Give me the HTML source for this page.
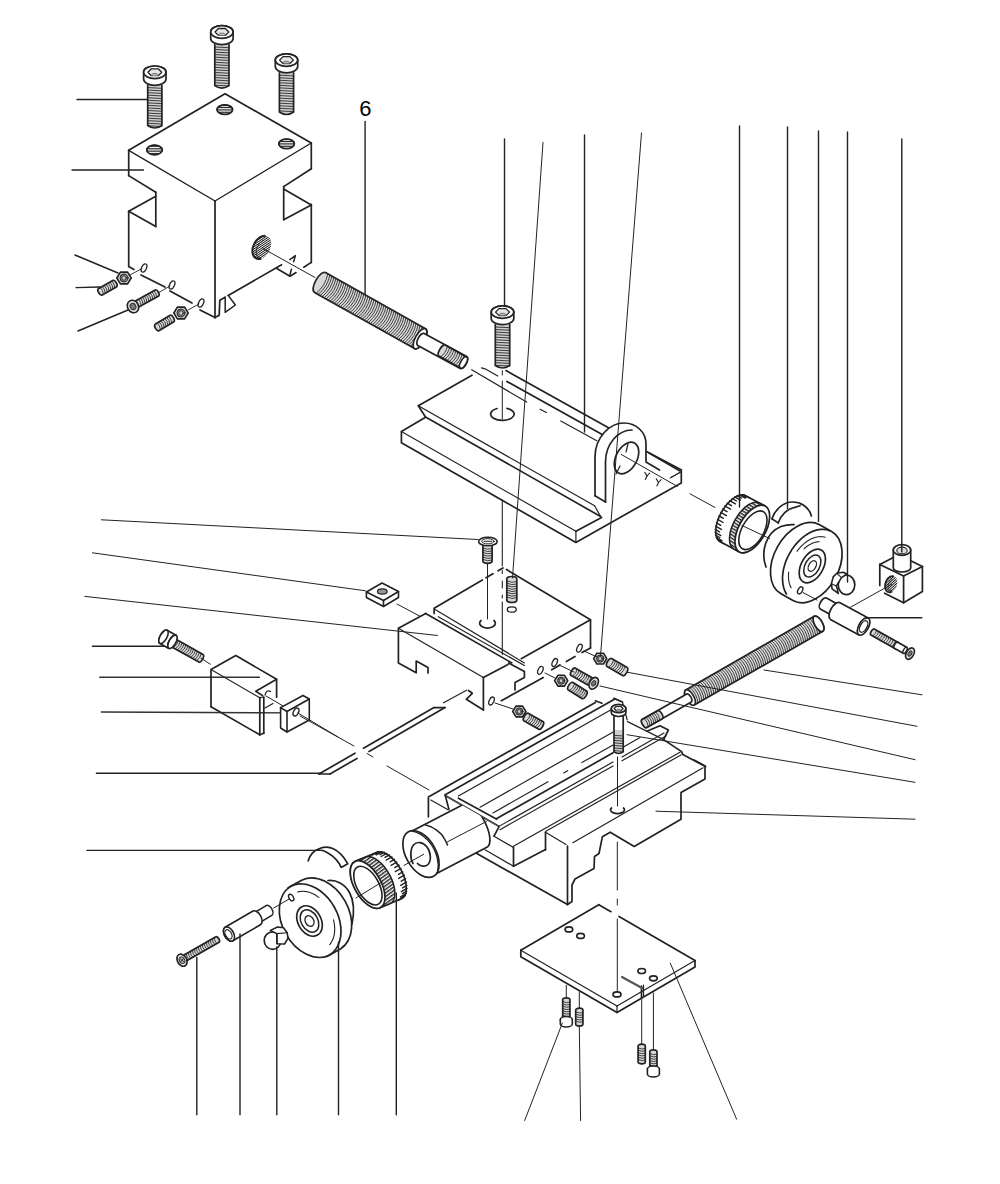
<!DOCTYPE html>
<html><head><meta charset="utf-8"><style>
html,body{margin:0;padding:0;background:#fff;}
svg{display:block;}
</style></head><body>
<svg width="1000" height="1184" viewBox="0 0 1000 1184" stroke-linecap="round">
<rect width="1000" height="1184" fill="#fff"/>
<defs><pattern id="hh" width="3" height="1.7" patternUnits="userSpaceOnUse" patternTransform="rotate(0)"><rect width="3" height="1.7" fill="#fff"/><path d="M0,0.5 H3" stroke="#222" stroke-width="0.9"/></pattern><pattern id="hd" width="3" height="1.8" patternUnits="userSpaceOnUse" patternTransform="rotate(-62)"><rect width="3" height="1.8" fill="#fff"/><path d="M0,0.5 H3" stroke="#111" stroke-width="1"/></pattern><pattern id="knA" width="4" height="2.9" patternUnits="userSpaceOnUse" patternTransform="rotate(33)"><rect width="4" height="2.9" fill="#fff"/><path d="M0,0.7 H4" stroke="#222" stroke-width="1.3"/></pattern><pattern id="knB" width="4" height="2.9" patternUnits="userSpaceOnUse" patternTransform="rotate(-36)"><rect width="4" height="2.9" fill="#fff"/><path d="M0,0.7 H4" stroke="#222" stroke-width="1.3"/></pattern><clipPath id="cpm"><polygon points="445.2,795.4 499.2,826.4 512,818 512,778 446,778 438,788"/></clipPath></defs>
<line x1="77" y1="99.5" x2="148" y2="99.5" stroke="#222" stroke-width="1.4" />
<line x1="72" y1="170" x2="143.5" y2="170" stroke="#222" stroke-width="1.4" />
<line x1="75" y1="255" x2="118" y2="273" stroke="#222" stroke-width="1.4" />
<line x1="76" y1="287.6" x2="100" y2="287" stroke="#222" stroke-width="1.4" />
<line x1="78" y1="331" x2="128" y2="310" stroke="#222" stroke-width="1.4" />
<polyline points="128.7,150.3 225,93.8 311.3,143" fill="none" stroke="#222" stroke-width="1.7" stroke-linejoin="round"/>
<line x1="128.7" y1="150.3" x2="215" y2="201" stroke="#222" stroke-width="1.4" />
<line x1="215" y1="201" x2="311.3" y2="143" stroke="#222" stroke-width="1.4" />
<line x1="128.7" y1="150.3" x2="128.7" y2="175.6" stroke="#222" stroke-width="1.7" />
<line x1="128.7" y1="175.6" x2="155.8" y2="192.2" stroke="#222" stroke-width="1.7" />
<line x1="155.8" y1="192.2" x2="155.8" y2="226.5" stroke="#222" stroke-width="1.7" />
<line x1="128.7" y1="211.3" x2="155.8" y2="196.2" stroke="#222" stroke-width="1.7" />
<line x1="128.7" y1="211.3" x2="155.8" y2="226.5" stroke="#222" stroke-width="1.7" />
<line x1="128.7" y1="211.3" x2="128.7" y2="266.5" stroke="#222" stroke-width="1.7" />
<line x1="128.7" y1="266.5" x2="134" y2="269.5" stroke="#222" stroke-width="1.7" />
<line x1="141" y1="275" x2="165" y2="287" stroke="#222" stroke-width="1.7" />
<line x1="170" y1="291" x2="192" y2="303" stroke="#222" stroke-width="1.7" />
<line x1="200" y1="310" x2="215" y2="317.6" stroke="#222" stroke-width="1.7" />
<line x1="215" y1="201" x2="215" y2="317.6" stroke="#222" stroke-width="1.7" />
<line x1="311.3" y1="143" x2="311.3" y2="168.7" stroke="#222" stroke-width="1.7" />
<line x1="311.3" y1="168.7" x2="283.7" y2="186.6" stroke="#222" stroke-width="1.7" />
<line x1="283.7" y1="186.6" x2="283.7" y2="219.7" stroke="#222" stroke-width="1.7" />
<line x1="283.7" y1="189" x2="311.3" y2="204.9" stroke="#222" stroke-width="1.7" />
<line x1="311.3" y1="204.9" x2="283.7" y2="219.7" stroke="#222" stroke-width="1.7" />
<line x1="311.3" y1="204.4" x2="311.3" y2="262.4" stroke="#222" stroke-width="1.7" />
<line x1="311.3" y1="262.4" x2="303.8" y2="267.2" stroke="#222" stroke-width="1.7" />
<polyline points="296,272.6 290,276.2 276.8,268.4" fill="none" stroke="#222" stroke-width="1.7" stroke-linejoin="round"/>
<line x1="281.6" y1="264.8" x2="228.2" y2="295.4" stroke="#222" stroke-width="1.7" />
<polyline points="225.2,297.2 219.8,300.2 219.2,315.2 215,317.6" fill="none" stroke="#222" stroke-width="1.7" stroke-linejoin="round"/>
<polyline points="228.2,295.4 235.4,305 225.2,312.3 225.2,297.2" fill="none" stroke="#222" stroke-width="1.5" stroke-linejoin="round"/>
<polyline points="289.8,259.6 295.4,255.6 293.6,261.7" fill="none" stroke="#222" stroke-width="1.5" stroke-linejoin="round"/>
<line x1="291.4" y1="269.3" x2="289.6" y2="276.3" stroke="#222" stroke-width="1.5" />
<ellipse cx="154.5" cy="150" rx="7.8" ry="4.8" transform="rotate(0 154.5 150)" fill="url(#hh)" stroke="#222" stroke-width="1.7"/>
<polyline points="146.8,150.8 146.7,150.1 146.8,149.4 147,148.8 147.3,148.1 147.9,147.5 148.5,146.9 149.3,146.4 150.2,146 151.2,145.6 152.3,145.4 153.4,145.3 154.5,145.2 155.6,145.3 156.7,145.4 157.8,145.6 158.8,146 159.7,146.4 160.5,146.9 161.1,147.5 161.7,148.1 162,148.8 162.2,149.4 162.3,150.1 162.2,150.8" fill="none" stroke="#222" stroke-width="1.2" stroke-linejoin="round"/>
<ellipse cx="224.8" cy="109.6" rx="7.8" ry="4.8" transform="rotate(0 224.8 109.6)" fill="url(#hh)" stroke="#222" stroke-width="1.7"/>
<polyline points="217.1,110.4 217,109.7 217.1,109 217.3,108.4 217.6,107.7 218.2,107.1 218.8,106.5 219.6,106 220.5,105.6 221.5,105.2 222.6,105 223.7,104.9 224.8,104.8 225.9,104.9 227,105 228.1,105.2 229.1,105.6 230,106 230.8,106.5 231.4,107.1 232,107.7 232.3,108.4 232.5,109 232.6,109.7 232.5,110.4" fill="none" stroke="#222" stroke-width="1.2" stroke-linejoin="round"/>
<ellipse cx="286.6" cy="143.8" rx="7.8" ry="4.8" transform="rotate(0 286.6 143.8)" fill="url(#hh)" stroke="#222" stroke-width="1.7"/>
<polyline points="278.9,144.6 278.8,143.9 278.9,143.2 279.1,142.6 279.4,141.9 280,141.3 280.6,140.7 281.4,140.2 282.3,139.8 283.3,139.4 284.4,139.2 285.5,139.1 286.6,139 287.7,139.1 288.8,139.2 289.9,139.4 290.9,139.8 291.8,140.2 292.6,140.7 293.2,141.3 293.8,141.9 294.1,142.6 294.3,143.2 294.4,143.9 294.3,144.6" fill="none" stroke="#222" stroke-width="1.2" stroke-linejoin="round"/>
<ellipse cx="261.8" cy="247.4" rx="8.4" ry="12.4" transform="rotate(28 261.8 247.4)" fill="url(#hd)" stroke="#222" stroke-width="0"/>
<polyline points="260.5,258.9 259.2,259 258,259 256.8,258.7 255.8,258.2 254.8,257.5 254,256.7 253.4,255.6 252.9,254.4 252.5,253 252.4,251.6 252.4,250 252.6,248.5 253,246.8 253.6,245.3 254.3,243.7 255.1,242.2 256.1,240.8 257.2,239.6 258.4,238.5 259.6,237.5 260.9,236.8 262.2,236.2 263.5,235.9 264.7,235.8" fill="none" stroke="#222" stroke-width="2.0" stroke-linejoin="round"/>
<polyline points="259.5,257.4 258.8,257.2 258.3,256.9 257.8,256.6 257.3,256.1 256.9,255.5 256.6,254.9 256.4,254.1 256.3,253.3 256.2,252.5 256.2,251.6 256.3,250.7 256.5,249.7 256.7,248.7 257,247.8 257.4,246.8 257.9,245.9 258.4,245 259,244.1 259.6,243.3 260.3,242.5 261,241.9 261.7,241.3 262.4,240.8 263.2,240.4" fill="none" stroke="#222" stroke-width="1.0" stroke-linejoin="round"/>
<path d="M147.7,82.3 L147.7,125.5 Q154.8,130.5 161.9,125.5 L161.9,82.3 Z" fill="#cfcfcf"/>
<path d="M148.2,87.6 L161.4,88.3 M148.2,90.1 L161.4,90.8 M148.2,92.7 L161.4,93.4 M148.2,95.2 L161.4,95.9 M148.2,97.8 L161.4,98.5 M148.2,100.3 L161.4,101 M148.2,102.9 L161.4,103.6 M148.2,105.4 L161.4,106.1 M148.2,108 L161.4,108.7 M148.2,110.5 L161.4,111.2 M148.2,113.1 L161.4,113.8 M148.2,115.6 L161.4,116.3 M148.2,118.2 L161.4,118.9 M148.2,120.7 L161.4,121.4 M148.2,123.3 L161.4,124 M148.2,125.8 L161.4,126.5" stroke="#333" stroke-width="0.95" fill="none"/>
<path d="M147.7,85.3 L147.7,125.5 Q154.8,130.5 161.9,125.5 L161.9,85.3" fill="none" stroke="#222" stroke-width="1.7"/>
<path d="M143.6,72.3 L143.6,79 A11.2,6.3 0 0 0 166,79 L166,72.3 A11.2,6.3 0 0 0 143.6,72.3 Z" fill="#fff" stroke="#222" stroke-width="1.7"/>
<ellipse cx="154.8" cy="72.3" rx="11.2" ry="6.3" transform="rotate(0 154.8 72.3)" fill="#fff" stroke="#222" stroke-width="1.7"/>
<polygon points="147.9,72.3 151.3,68.8 158.3,68.8 161.7,72.3 158.3,75.7 151.3,75.7" fill="#e6e6e6" stroke="#222" stroke-width="1.3" stroke-linejoin="round"/>
<path d="M151.3,75.7 L152.7,73.5 L156.9,73.5 L158.3,75.7" fill="#bbb" stroke="#555" stroke-width="0.7"/>
<path d="M214.8,41.7 L214.8,85.6 Q221.9,90.6 229,85.6 L229,41.7 Z" fill="#cfcfcf"/>
<path d="M215.3,47 L228.5,47.7 M215.3,49.5 L228.5,50.2 M215.3,52.1 L228.5,52.8 M215.3,54.6 L228.5,55.3 M215.3,57.2 L228.5,57.9 M215.3,59.7 L228.5,60.4 M215.3,62.3 L228.5,63 M215.3,64.8 L228.5,65.5 M215.3,67.4 L228.5,68.1 M215.3,69.9 L228.5,70.6 M215.3,72.5 L228.5,73.2 M215.3,75 L228.5,75.7 M215.3,77.6 L228.5,78.3 M215.3,80.1 L228.5,80.8 M215.3,82.7 L228.5,83.4 M215.3,85.2 L228.5,85.9" stroke="#333" stroke-width="0.95" fill="none"/>
<path d="M214.8,44.7 L214.8,85.6 Q221.9,90.6 229,85.6 L229,44.7" fill="none" stroke="#222" stroke-width="1.7"/>
<path d="M210.7,32 L210.7,38.4 A11.2,6.3 0 0 0 233.1,38.4 L233.1,32 A11.2,6.3 0 0 0 210.7,32 Z" fill="#fff" stroke="#222" stroke-width="1.7"/>
<ellipse cx="221.9" cy="32" rx="11.2" ry="6.3" transform="rotate(0 221.9 32)" fill="#fff" stroke="#222" stroke-width="1.7"/>
<polygon points="215,32 218.4,28.5 225.4,28.5 228.8,32 225.4,35.4 218.4,35.4" fill="#e6e6e6" stroke="#222" stroke-width="1.3" stroke-linejoin="round"/>
<path d="M218.4,35.4 L219.8,33.2 L224,33.2 L225.4,35.4" fill="#bbb" stroke="#555" stroke-width="0.7"/>
<path d="M279.4,69.9 L279.4,112 Q286.5,117 293.6,112 L293.6,69.9 Z" fill="#cfcfcf"/>
<path d="M279.9,75.2 L293.1,75.9 M279.9,77.8 L293.1,78.5 M279.9,80.3 L293.1,81 M279.9,82.8 L293.1,83.5 M279.9,85.4 L293.1,86.1 M279.9,87.9 L293.1,88.6 M279.9,90.5 L293.1,91.2 M279.9,93 L293.1,93.7 M279.9,95.6 L293.1,96.3 M279.9,98.1 L293.1,98.8 M279.9,100.7 L293.1,101.4 M279.9,103.2 L293.1,103.9 M279.9,105.8 L293.1,106.5 M279.9,108.3 L293.1,109 M279.9,110.9 L293.1,111.6" stroke="#333" stroke-width="0.95" fill="none"/>
<path d="M279.4,72.9 L279.4,112 Q286.5,117 293.6,112 L293.6,72.9" fill="none" stroke="#222" stroke-width="1.7"/>
<path d="M275.3,60.1 L275.3,66.6 A11.2,6.3 0 0 0 297.7,66.6 L297.7,60.1 A11.2,6.3 0 0 0 275.3,60.1 Z" fill="#fff" stroke="#222" stroke-width="1.7"/>
<ellipse cx="286.5" cy="60.1" rx="11.2" ry="6.3" transform="rotate(0 286.5 60.1)" fill="#fff" stroke="#222" stroke-width="1.7"/>
<polygon points="279.6,60.1 283,56.6 290,56.6 293.4,60.1 290,63.5 283,63.5" fill="#e6e6e6" stroke="#222" stroke-width="1.3" stroke-linejoin="round"/>
<path d="M283,63.5 L284.4,61.3 L288.6,61.3 L290,63.5" fill="#bbb" stroke="#555" stroke-width="0.7"/>
<ellipse cx="144" cy="268" rx="2.4" ry="4.4" transform="rotate(25 144 268)" fill="#fff" stroke="#222" stroke-width="1.3"/>
<ellipse cx="172" cy="285" rx="2.4" ry="4.4" transform="rotate(25 172 285)" fill="#fff" stroke="#222" stroke-width="1.3"/>
<ellipse cx="201" cy="303" rx="2.4" ry="4.4" transform="rotate(25 201 303)" fill="#fff" stroke="#222" stroke-width="1.3"/>
<line x1="130" y1="275" x2="142" y2="268.5" stroke="#222" stroke-width="0.9" />
<line x1="158" y1="293" x2="170" y2="286" stroke="#222" stroke-width="0.9" />
<line x1="188" y1="310" x2="199" y2="304" stroke="#222" stroke-width="0.9" />
<polygon points="131.2,278 127.6,283.9 120.4,283.9 116.8,278 120.4,272.1 127.6,272.1" fill="#d0d0d0" stroke="#222" stroke-width="1.6" stroke-linejoin="round"/>
<ellipse cx="124" cy="278" rx="4" ry="4" transform="rotate(0 124 278)" fill="#888" stroke="#222" stroke-width="1.0"/>
<ellipse cx="124" cy="278" rx="2.2" ry="2.2" transform="rotate(0 124 278)" fill="#ccc" stroke="#222" stroke-width="0.8"/>
<polygon points="188.2,313 184.6,318.9 177.4,318.9 173.8,313 177.4,307.1 184.6,307.1" fill="#d0d0d0" stroke="#222" stroke-width="1.6" stroke-linejoin="round"/>
<ellipse cx="181" cy="313" rx="4" ry="4" transform="rotate(0 181 313)" fill="#888" stroke="#222" stroke-width="1.0"/>
<ellipse cx="181" cy="313" rx="2.2" ry="2.2" transform="rotate(0 181 313)" fill="#ccc" stroke="#222" stroke-width="0.8"/>
<path d="M101.8,295.2 L116.8,286.7 A1.7,3.7 -29.5 0 0 113.2,280.3 L98.2,288.8 A1.7,3.7 -29.5 0 0 101.8,295.2 Z" fill="#d8d8d8" stroke="none"/>
<path d="M103.4,294.3 Q103.2,290.2 100.4,287.5 M105.3,293.2 Q105.1,289.1 102.3,286.4 M107.3,292.1 Q107,288 104.2,285.4 M109.2,291.1 Q109,286.9 106.1,284.3 M111.1,290 Q110.9,285.8 108.1,283.2 M113,288.9 Q112.8,284.8 110,282.1 M114.9,287.8 Q114.7,283.7 111.9,281" fill="none" stroke="#222" stroke-width="0.85"/>
<path d="M98.2,288.8 A1.7,3.7 -29.5 0 0 101.8,295.2 L116.8,286.7 A1.7,3.7 -29.5 0 0 113.2,280.3 Z" fill="none" stroke="#222" stroke-width="1.7" stroke-linejoin="round"/>
<path d="M158.9,330.7 L173.9,321.7 A1.7,3.7 -31 0 0 170.1,315.3 L155.1,324.3 A1.7,3.7 -31 0 0 158.9,330.7 Z" fill="#d8d8d8" stroke="none"/>
<path d="M160.5,329.7 Q160.2,325.6 157.3,323 M162.4,328.6 Q162.1,324.5 159.2,321.9 M164.3,327.5 Q163.9,323.3 161.1,320.8 M166.1,326.3 Q165.8,322.2 162.9,319.6 M168,325.2 Q167.7,321.1 164.8,318.5 M169.9,324.1 Q169.6,319.9 166.7,317.4 M171.8,322.9 Q171.5,318.8 168.6,316.2" fill="none" stroke="#222" stroke-width="0.85"/>
<path d="M155.1,324.3 A1.7,3.7 -31 0 0 158.9,330.7 L173.9,321.7 A1.7,3.7 -31 0 0 170.1,315.3 Z" fill="none" stroke="#222" stroke-width="1.7" stroke-linejoin="round"/>
<path d="M139.7,306.6 L158.7,296.1 A1.6,3.5 -28.9 0 0 155.3,289.9 L136.3,300.4 A1.6,3.5 -28.9 0 0 139.7,306.6 Z" fill="#d8d8d8" stroke="none"/>
<path d="M141.3,305.7 Q141.2,301.8 138.5,299.2 M143.2,304.6 Q143.1,300.7 140.5,298.1 M145.2,303.5 Q145,299.6 142.4,297.1 M147.1,302.5 Q146.9,298.6 144.3,296 M149,301.4 Q148.9,297.5 146.2,294.9 M150.9,300.3 Q150.8,296.4 148.2,293.9 M152.9,299.3 Q152.7,295.4 150.1,292.8 M154.8,298.2 Q154.6,294.3 152,291.8 M156.7,297.2 Q156.6,293.2 153.9,290.7" fill="none" stroke="#222" stroke-width="0.85"/>
<path d="M136.3,300.4 A1.6,3.5 -28.9 0 0 139.7,306.6 L158.7,296.1 A1.6,3.5 -28.9 0 0 155.3,289.9 Z" fill="none" stroke="#222" stroke-width="1.7" stroke-linejoin="round"/>
<ellipse cx="133" cy="306.5" rx="5.5" ry="6.5" transform="rotate(-30 133 306.5)" fill="#ddd" stroke="#222" stroke-width="1.6"/>
<ellipse cx="133" cy="306.5" rx="2.8" ry="3.3" transform="rotate(-30 133 306.5)" fill="#777" stroke="#222" stroke-width="0.9"/>
<text x="359.3" y="116.2" font-family="Liberation Sans, sans-serif" font-size="22" fill="#000">6</text>
<line x1="365.1" y1="121.4" x2="365.1" y2="299" stroke="#222" stroke-width="1.4" />
<line x1="263" y1="248.5" x2="315" y2="277.5" stroke="#222" stroke-width="1.0" />
<path d="M314.5,292.4 L414.5,348.6 A4.7,11.3 29.3 0 0 425.5,328.8 L325.5,272.6 A4.7,11.3 29.3 0 0 314.5,292.4 Z" fill="#d8d8d8" stroke="none"/>
<path d="M316.2,293.3 Q325.7,285.7 327.8,273.9 M318.2,294.4 Q327.7,286.8 329.9,275.1 M320.2,295.6 Q329.7,288 331.9,276.2 M322.2,296.7 Q331.7,289.1 333.9,277.3 M324.2,297.8 Q333.7,290.2 335.9,278.5 M326.2,298.9 Q335.8,291.4 337.9,279.6 M328.2,300.1 Q337.8,292.5 339.9,280.7 M330.2,301.2 Q339.8,293.6 341.9,281.8 M332.2,302.3 Q341.8,294.7 343.9,283 M334.2,303.4 Q343.8,295.9 345.9,284.1 M336.2,304.6 Q345.8,297 347.9,285.2 M338.2,305.7 Q347.8,298.1 349.9,286.3 M340.2,306.8 Q349.8,299.2 351.9,287.5 M342.2,308 Q351.8,300.4 353.9,288.6 M344.2,309.1 Q353.8,301.5 355.9,289.7 M346.2,310.2 Q355.8,302.6 357.9,290.8 M348.2,311.3 Q357.8,303.7 359.9,292 M350.2,312.5 Q359.8,304.9 361.9,293.1 M352.3,313.6 Q361.8,306 363.9,294.2 M354.3,314.7 Q363.8,307.1 365.9,295.4 M356.3,315.8 Q365.8,308.3 367.9,296.5 M358.3,317 Q367.8,309.4 370,297.6 M360.3,318.1 Q369.8,310.5 372,298.7 M362.3,319.2 Q371.8,311.6 374,299.9 M364.3,320.4 Q373.8,312.8 376,301 M366.3,321.5 Q375.9,313.9 378,302.1 M368.3,322.6 Q377.9,315 380,303.2 M370.3,323.7 Q379.9,316.1 382,304.4 M372.3,324.9 Q381.9,317.3 384,305.5 M374.3,326 Q383.9,318.4 386,306.6 M376.3,327.1 Q385.9,319.5 388,307.8 M378.3,328.2 Q387.9,320.7 390,308.9 M380.3,329.4 Q389.9,321.8 392,310 M382.3,330.5 Q391.9,322.9 394,311.1 M384.3,331.6 Q393.9,324 396,312.3 M386.3,332.7 Q395.9,325.2 398,313.4 M388.3,333.9 Q397.9,326.3 400,314.5 M390.4,335 Q399.9,327.4 402,315.6 M392.4,336.1 Q401.9,328.5 404,316.8 M394.4,337.3 Q403.9,329.7 406,317.9 M396.4,338.4 Q405.9,330.8 408,319 M398.4,339.5 Q407.9,331.9 410.1,320.1 M400.4,340.6 Q409.9,333 412.1,321.3 M402.4,341.8 Q411.9,334.2 414.1,322.4 M404.4,342.9 Q414,335.3 416.1,323.5 M406.4,344 Q416,336.4 418.1,324.7 M408.4,345.1 Q418,337.6 420.1,325.8 M410.4,346.3 Q420,338.7 422.1,326.9 M412.4,347.4 Q422,339.8 424.1,328" fill="none" stroke="#222" stroke-width="0.85"/>
<path d="M325.5,272.6 A4.7,11.3 29.3 0 0 314.5,292.4 L414.5,348.6 A4.7,11.3 29.3 0 0 425.5,328.8 Z" fill="none" stroke="#222" stroke-width="1.7" stroke-linejoin="round"/>
<ellipse cx="420" cy="338.7" rx="4.7" ry="11.3" transform="rotate(29.3 420 338.7)" fill="#fff" stroke="#222" stroke-width="1.7"/>
<path d="M424.2,333.5 A3.1,6.8 28.4 0 0 417.8,345.5 L460.3,368.5 A3.1,6.8 28.4 0 0 466.7,356.5 Z" fill="#fff" stroke="#222" stroke-width="1.7" stroke-linejoin="round"/>
<path d="M438.9,356 L460.4,368 A2.5,6.3 29.2 0 0 466.6,357 L445.1,345 A2.5,6.3 29.2 0 0 438.9,356 Z" fill="#d8d8d8" stroke="none"/>
<path d="M440.7,357 Q446.1,352.8 447.5,346.3 M442.8,358.2 Q448.2,353.9 449.6,347.5 M444.9,359.3 Q450.3,355.1 451.7,348.7 M447,360.5 Q452.4,356.3 453.8,349.8 M449.1,361.7 Q454.5,357.5 455.9,351 M451.2,362.8 Q456.6,358.6 458,352.2 M453.3,364 Q458.7,359.8 460,353.4 M455.4,365.2 Q460.7,361 462.1,354.5 M457.5,366.4 Q462.8,362.1 464.2,355.7 M459.6,367.5 Q464.9,363.3 466.3,356.9" fill="none" stroke="#222" stroke-width="0.85"/>
<path d="M445.1,345 A2.5,6.3 29.2 0 0 438.9,356 L460.4,368 A2.5,6.3 29.2 0 0 466.6,357 Z" fill="none" stroke="#222" stroke-width="1.7" stroke-linejoin="round"/>
<ellipse cx="463.5" cy="362.5" rx="2.7" ry="6.3" transform="rotate(29.3 463.5 362.5)" fill="#fff" stroke="#222" stroke-width="1.5"/>
<polyline points="424.7,417.8 401.4,431.4 401.4,442.7 575.9,542.4 681.3,482.9 681.3,471.8 649,453.1" fill="none" stroke="#222" stroke-width="1.7" stroke-linejoin="round"/>
<line x1="401.4" y1="431.4" x2="575.9" y2="531.3" stroke="#222" stroke-width="1.2" />
<line x1="575.9" y1="531.3" x2="575.9" y2="542.4" stroke="#222" stroke-width="1.2" />
<line x1="575.9" y1="531.3" x2="601.6" y2="517.6" stroke="#222" stroke-width="1.7" />
<line x1="671" y1="477.5" x2="681.3" y2="471.8" stroke="#222" stroke-width="1.2" />
<line x1="418.3" y1="405.7" x2="472" y2="375.2" stroke="#222" stroke-width="1.7" />
<line x1="418.3" y1="405.7" x2="425.5" y2="417" stroke="#222" stroke-width="1.7" />
<line x1="418.3" y1="405.7" x2="594.6" y2="505.8" stroke="#222" stroke-width="1.2" />
<line x1="425.5" y1="417" x2="600.6" y2="516.5" stroke="#222" stroke-width="1.7" />
<line x1="594.6" y1="505.8" x2="600.6" y2="516.5" stroke="#222" stroke-width="1.2" />
<line x1="506" y1="370.6" x2="609.4" y2="428.2" stroke="#222" stroke-width="1.7" />
<line x1="506.8" y1="381.4" x2="604" y2="435.4" stroke="#222" stroke-width="1.7" />
<polyline points="481.5,367.8 485,368.8 497.8,376" fill="none" stroke="#222" stroke-width="1.2" stroke-linejoin="round"/>
<path d="M497,408.5 A11.7,6.3 0 1 0 507,408.3" fill="none" stroke="#222" stroke-width="1.7" stroke-linejoin="round" />
<line x1="471.7" y1="369.7" x2="526.6" y2="402.1" stroke="#222" stroke-width="1.2" />
<line x1="540.1" y1="409.3" x2="546.4" y2="412.5" stroke="#222" stroke-width="1.2" />
<line x1="560.8" y1="421" x2="596.8" y2="440.8" stroke="#222" stroke-width="1.2" />
<line x1="690" y1="493.8" x2="715" y2="507.5" stroke="#222" stroke-width="1.0" />
<line x1="502.3" y1="370.6" x2="502.3" y2="375" stroke="#222" stroke-width="1.0" />
<line x1="502.3" y1="381" x2="502.3" y2="419" stroke="#222" stroke-width="1.0" />
<path d="M495.3,321.7 L495.3,365.5 Q502.5,370.5 509.7,365.5 L509.7,321.7 Z" fill="#cfcfcf"/>
<path d="M495.8,327 L509.2,327.7 M495.8,329.6 L509.2,330.2 M495.8,332.1 L509.2,332.8 M495.8,334.7 L509.2,335.4 M495.8,337.2 L509.2,337.9 M495.8,339.8 L509.2,340.5 M495.8,342.3 L509.2,343 M495.8,344.9 L509.2,345.6 M495.8,347.4 L509.2,348.1 M495.8,350 L509.2,350.7 M495.8,352.5 L509.2,353.2 M495.8,355.1 L509.2,355.8 M495.8,357.6 L509.2,358.3 M495.8,360.2 L509.2,360.9 M495.8,362.7 L509.2,363.4 M495.8,365.3 L509.2,366" stroke="#333" stroke-width="0.95" fill="none"/>
<path d="M495.3,324.7 L495.3,365.5 Q502.5,370.5 509.7,365.5 L509.7,324.7" fill="none" stroke="#222" stroke-width="1.7"/>
<path d="M491.2,312.1 L491.2,318.4 A11.3,6.3 0 0 0 513.8,318.4 L513.8,312.1 A11.3,6.3 0 0 0 491.2,312.1 Z" fill="#fff" stroke="#222" stroke-width="1.7"/>
<ellipse cx="502.5" cy="312.1" rx="11.3" ry="6.3" transform="rotate(0 502.5 312.1)" fill="#fff" stroke="#222" stroke-width="1.7"/>
<polygon points="495.5,312.1 499,308.6 506,308.6 509.5,312.1 506,315.6 499,315.6" fill="#e6e6e6" stroke="#222" stroke-width="1.3" stroke-linejoin="round"/>
<path d="M499,315.6 L500.4,313.3 L504.6,313.3 L506,315.6" fill="#bbb" stroke="#555" stroke-width="0.7"/>
<path d="M595,495.8 L595,457 C595,437 610,423 624,423 C636,423 646,432 646,444 L646,461" fill="#fff" stroke="#222" stroke-width="1.7" stroke-linejoin="round" />
<path d="M605.5,502.1 L605.5,462 C605.5,444 618,430 632,430" fill="none" stroke="#222" stroke-width="1.7" stroke-linejoin="round" />
<line x1="595" y1="495.8" x2="605.5" y2="502.1" stroke="#222" stroke-width="1.7" />
<ellipse cx="626.5" cy="458" rx="10.5" ry="17" transform="rotate(28 626.5 458)" fill="#fff" stroke="#222" stroke-width="1.7"/>
<path d="M628,444 L626,452 M620,466 L616,474" fill="none" stroke="#222" stroke-width="1.2" stroke-linejoin="round" />
<line x1="646" y1="451.2" x2="681.6" y2="470.1" stroke="#222" stroke-width="1.7" />
<line x1="646" y1="462" x2="659.5" y2="470.1" stroke="#222" stroke-width="1.7" />
<line x1="621.2" y1="454.4" x2="677.4" y2="486.4" stroke="#222" stroke-width="1.0" />
<line x1="644.8" y1="472.4" x2="647" y2="476" stroke="#222" stroke-width="1.1" />
<line x1="649.6" y1="473.2" x2="647" y2="476" stroke="#222" stroke-width="1.1" />
<line x1="647" y1="476" x2="645.4" y2="479.4" stroke="#222" stroke-width="1.1" />
<line x1="656.3" y1="478.9" x2="658.5" y2="482.5" stroke="#222" stroke-width="1.1" />
<line x1="661.1" y1="479.7" x2="658.5" y2="482.5" stroke="#222" stroke-width="1.1" />
<line x1="658.5" y1="482.5" x2="656.9" y2="485.9" stroke="#222" stroke-width="1.1" />
<line x1="670" y1="478" x2="679.5" y2="472.7" stroke="#222" stroke-width="1.0" />
<path d="M745.2,495.5 L765,506 A13.3,26.3 29.3 0 1 739.6,552 L719.8,541.5 A13.3,26.3 29.3 0 1 745.2,495.5 Z" fill="#fff" stroke="#222" stroke-width="1.7" stroke-linejoin="round" />
<path d="M718.7,540.8 l5.7,3.2 M717.3,539.3 l4.3,2.5 M716.2,537.4 l5.7,3.2 M715.5,535 l4.3,2.5 M715.2,532.4 l5.7,3.2 M715.2,529.4 l4.3,2.5 M715.6,526.2 l5.7,3.2 M716.4,522.8 l4.3,2.5 M717.5,519.3 l5.7,3.2 M719,515.8 l4.3,2.5 M720.7,512.4 l5.7,3.2 M722.7,509.1 l4.3,2.5 M724.8,506 l5.7,3.2 M727.2,503.2 l4.3,2.5 M729.7,500.7 l5.7,3.2 M732.2,498.5 l4.3,2.5 M734.7,496.9 l5.7,3.2 M737.2,495.6 l4.3,2.5 M739.6,494.9 l5.7,3.2 M741.8,494.7 l4.3,2.5 M743.9,494.9 l5.7,3.2" fill="none" stroke="#222" stroke-width="1.4" stroke-linejoin="round" />
<path d="M759,502.8 L765,506 A13.3,26.3 29.3 0 1 739.6,552 L733.6,548.8 A13.3,26.3 29.3 0 1 759,502.8 Z" fill="url(#knA)" stroke="#222" stroke-width="1.5" stroke-linejoin="round" />
<ellipse cx="752.3" cy="529" rx="13.3" ry="26.3" transform="rotate(29.3 752.3 529)" fill="#fff" stroke="#222" stroke-width="1.7"/>
<ellipse cx="752.9" cy="530.2" rx="10.9" ry="21.3" transform="rotate(29.3 752.9 530.2)" fill="#fff" stroke="#222" stroke-width="1.6"/>
<line x1="742" y1="525.5" x2="769.5" y2="538.5" stroke="#222" stroke-width="1.0" />
<path d="M771.9,518.7 C775.5,508.5 784,502.2 792,502 C800,501.8 808.5,506 811.4,515.9" fill="none" stroke="#222" stroke-width="1.7" stroke-linejoin="round" />
<path d="M778.2,522.9 C781,514.5 787.5,508.8 794,507.6 L800,505.7" fill="none" stroke="#222" stroke-width="1.7" stroke-linejoin="round" />
<line x1="771.9" y1="518.7" x2="778.2" y2="522.9" stroke="#222" stroke-width="1.7" />
<path d="M766,567 C760.5,552 765.5,533 781,526.5 C786,524.8 790,524.3 794,524.6" fill="none" stroke="#222" stroke-width="1.7" stroke-linejoin="round" />
<path d="M819.6,524.8 L831.6,531.5 A26,39.5 29.3 0 1 793,600.5 L781,593.8 A26,39.5 29.3 0 1 819.6,524.8 Z" fill="#fff" stroke="#222" stroke-width="1.7" stroke-linejoin="round" />
<polyline points="786.4,594 784.9,591.2 783.8,588 783,584.6 782.6,580.9 782.5,577 782.9,573 783.6,568.9 784.7,564.8 786.1,560.6 787.9,556.6 790,552.7 792.3,548.9 795,545.3 797.8,542.1 800.8,539.1 804,536.4 807.2,534.2 810.6,532.3 813.9,530.9 817.3,529.9 820.5,529.4 823.7,529.3 826.7,529.7 829.6,530.6" fill="none" stroke="#222" stroke-width="1.7" stroke-linejoin="round"/>
<polyline points="797.1,551.2 798.1,549.9 799.1,548.6 800.2,547.4 801.3,546.2 802.4,545.1 803.5,544.1 804.7,543.1 805.9,542.2 807.1,541.3 808.3,540.5 809.6,539.8 810.8,539.1 812.1,538.5 813.3,538 814.6,537.6 815.8,537.2 817,537 818.2,536.8 819.4,536.7 820.6,536.6 821.8,536.7 822.9,536.8 824,537 825.1,537.3" fill="none" stroke="#222" stroke-width="1.1" stroke-linejoin="round"/>
<polyline points="791.2,587.7 790.9,587.2 790.6,586.7 790.4,586.1 790.1,585.6 789.9,585 789.7,584.4 789.5,583.8 789.3,583.2 789.2,582.5 789,581.9 788.9,581.2 788.8,580.6 788.7,579.9 788.6,579.2 788.6,578.5 788.5,577.8 788.5,577.1 788.5,576.4 788.5,575.7 788.5,574.9 788.5,574.2 788.6,573.5 788.6,572.7 788.7,572" fill="none" stroke="#222" stroke-width="1.1" stroke-linejoin="round"/>
<polyline points="804.1,548.8 804.7,548.2 805.3,547.7 805.9,547.2 806.5,546.7 807.2,546.2 807.8,545.8 808.4,545.4 809,545 809.7,544.6 810.3,544.2 811,543.9 811.6,543.6 812.2,543.3 812.9,543 813.5,542.8 814.2,542.6 814.8,542.4 815.4,542.2 816.1,542.1 816.7,542 817.3,541.9 818,541.8 818.6,541.8 819.2,541.8" fill="none" stroke="#222" stroke-width="1.1" stroke-linejoin="round"/>
<ellipse cx="812.3" cy="566" rx="11" ry="18.3" transform="rotate(29.3 812.3 566)" fill="#fff" stroke="#222" stroke-width="1.7"/>
<ellipse cx="812.3" cy="566" rx="7.2" ry="12" transform="rotate(29.3 812.3 566)" fill="#fff" stroke="#222" stroke-width="1.5"/>
<ellipse cx="812.3" cy="566" rx="3.5" ry="5.8" transform="rotate(29.3 812.3 566)" fill="#fff" stroke="#222" stroke-width="1.3"/>
<ellipse cx="800.2" cy="590.4" rx="2.2" ry="3.8" transform="rotate(29.3 800.2 590.4)" fill="#fff" stroke="#222" stroke-width="1.4"/>
<line x1="803" y1="592.5" x2="817" y2="600" stroke="#222" stroke-width="1.0" />
<ellipse cx="846.5" cy="584.8" rx="8.3" ry="9.8" transform="rotate(0 846.5 584.8)" fill="#fff" stroke="#222" stroke-width="1.7"/>
<polygon points="831.4,583.7 833.2,576.9 836.8,573.3 843.3,572.2 846.9,574 841.5,577.6 836.4,585.9 838.3,593.4 832.1,588.8" fill="#fff" stroke="#222" stroke-width="1.6" stroke-linejoin="round"/>
<line x1="836.8" y1="573.3" x2="841.5" y2="577.6" stroke="#222" stroke-width="1.1" />
<line x1="831.4" y1="583.7" x2="836.4" y2="585.9" stroke="#222" stroke-width="1.1" />
<polyline points="879.8,564.4 903.6,576 922.4,566.4 922.4,591.4 903.6,602.8 884.6,593.2" fill="none" stroke="#222" stroke-width="1.7" stroke-linejoin="round"/>
<line x1="903.6" y1="576" x2="903.6" y2="602.8" stroke="#222" stroke-width="1.7" />
<line x1="879.8" y1="564.4" x2="879.8" y2="585.4" stroke="#222" stroke-width="1.7" />
<line x1="879.8" y1="564.4" x2="893.3" y2="557.5" stroke="#222" stroke-width="1.7" />
<line x1="910.7" y1="560.7" x2="922.4" y2="566.4" stroke="#222" stroke-width="1.7" />
<ellipse cx="891.2" cy="584.2" rx="5.8" ry="8.4" transform="rotate(20 891.2 584.2)" fill="url(#hd)" stroke="#222" stroke-width="0"/>
<polyline points="891.4,592 890.5,592.3 889.7,592.3 888.8,592.2 888,592 887.3,591.5 886.6,590.9 886.1,590.2 885.6,589.3 885.3,588.4 885.1,587.3 885,586.2 885.1,585 885.3,583.9 885.6,582.7 886,581.5 886.6,580.4 887.2,579.4 887.9,578.5 888.7,577.7 889.5,577.1 890.4,576.6 891.3,576.3 892.2,576.1 893.1,576.1" fill="none" stroke="#222" stroke-width="1.8" stroke-linejoin="round"/>
<polyline points="890.6,590.6 890.2,590.5 889.8,590.4 889.5,590.2 889.1,589.9 888.8,589.5 888.6,589.1 888.4,588.6 888.2,588.1 888.1,587.6 888.1,587 888.1,586.3 888.1,585.7 888.3,585.1 888.4,584.4 888.6,583.8 888.9,583.1 889.2,582.5 889.5,582 889.9,581.5 890.3,581 890.7,580.6 891.1,580.2 891.6,579.9 892,579.7" fill="none" stroke="#222" stroke-width="0.9" stroke-linejoin="round"/>
<path d="M893.3,550 L893.3,568 A8.7,4 0 0 0 910.7,568 L910.7,550" fill="#fff" stroke="#222" stroke-width="1.7" stroke-linejoin="round" />
<ellipse cx="902" cy="550" rx="8.7" ry="5.4" transform="rotate(0 902 550)" fill="#fff" stroke="#222" stroke-width="1.7"/>
<ellipse cx="902" cy="550.5" rx="5.2" ry="3.4" transform="rotate(0 902 550.5)" fill="#ddd" stroke="#222" stroke-width="1.1"/>
<line x1="849.8" y1="607.6" x2="891.8" y2="584.2" stroke="#222" stroke-width="1.0" />
<path d="M820.3,609 L832.9,616 A3.1,6.3 29.3 0 1 839.1,605 L826.5,598 A3.1,6.3 29.3 0 0 820.3,609 Z" fill="#fff" stroke="#222" stroke-width="1.7" stroke-linejoin="round" />
<ellipse cx="836" cy="610.5" rx="3.1" ry="6.3" transform="rotate(29.3 836 610.5)" fill="#fff" stroke="#222" stroke-width="1.7"/>
<path d="M830.4,619.4 L859,634.9 A4.8,9.6 29.3 0 1 868.2,618.1 L839.6,602.6 A4.8,9.6 29.3 0 0 830.4,619.4 Z" fill="#fff" stroke="#222" stroke-width="1.7" stroke-linejoin="round" />
<ellipse cx="863.6" cy="626.5" rx="4.8" ry="9.6" transform="rotate(29.3 863.6 626.5)" fill="#fff" stroke="#222" stroke-width="1.7"/>
<ellipse cx="863.6" cy="626.5" rx="3.3" ry="6.3" transform="rotate(29.3 863.6 626.5)" fill="#fff" stroke="#222" stroke-width="1.3"/>
<line x1="865.4" y1="617.8" x2="921.8" y2="617.8" stroke="#222" stroke-width="1.4" />
<path d="M870.9,635 L895.3,648.8 A1.5,3.4 29.5 0 0 898.7,642.8 L874.3,629 A1.5,3.4 29.5 0 0 870.9,635 Z" fill="#d8d8d8" stroke="none"/>
<path d="M872.7,636 Q875.9,633.9 876.7,630.4 M874.8,637.2 Q878,635 878.8,631.6 M876.9,638.3 Q880.1,636.2 880.8,632.8 M879,639.5 Q882.2,637.4 882.9,633.9 M881.1,640.7 Q884.2,638.6 885,635.1 M883.2,641.9 Q886.3,639.8 887.1,636.3 M885.2,643.1 Q888.4,640.9 889.2,637.5 M887.3,644.2 Q890.5,642.1 891.3,638.7 M889.4,645.4 Q892.6,643.3 893.4,639.8 M891.5,646.6 Q894.7,644.5 895.5,641 M893.6,647.8 Q896.8,645.7 897.6,642.2" fill="none" stroke="#222" stroke-width="0.85"/>
<path d="M874.3,629 A1.5,3.4 29.5 0 0 870.9,635 L895.3,648.8 A1.5,3.4 29.5 0 0 898.7,642.8 Z" fill="none" stroke="#222" stroke-width="1.7" stroke-linejoin="round"/>
<path d="M897.7,642.2 A1.5,3.4 29.5 0 0 894.3,648.2 L903.3,653.3 A1.5,3.4 29.5 0 0 906.7,647.3 Z" fill="#fff" stroke="#222" stroke-width="1.7" stroke-linejoin="round"/>
<ellipse cx="905" cy="650.3" rx="1.5" ry="3.4" transform="rotate(29.5 905 650.3)" fill="#fff" stroke="#222" stroke-width="1.36"/>
<ellipse cx="910" cy="653.6" rx="3.8" ry="6.2" transform="rotate(29.3 910 653.6)" fill="#ddd" stroke="#222" stroke-width="1.6"/>
<ellipse cx="910" cy="653.6" rx="1.8" ry="3" transform="rotate(29.3 910 653.6)" fill="#777" stroke="#222" stroke-width="0.8"/>
<path d="M694.3,705 L822.8,631.3 A3.9,8.6 -29.8 0 0 814.2,616.3 L685.7,690 A3.9,8.6 -29.8 0 0 694.3,705 Z" fill="#d8d8d8" stroke="none"/>
<path d="M696,704 Q695,694.6 688,688.7 M698,702.8 Q697,693.5 690,687.6 M700,701.7 Q699,692.3 692,686.4 M702,700.6 Q701,691.2 694,685.3 M704,699.4 Q703,690 696,684.1 M705.9,698.3 Q705,688.9 698,683 M707.9,697.1 Q707,687.8 700,681.9 M709.9,696 Q709,686.6 702,680.7 M711.9,694.8 Q711,685.5 704,679.6 M713.9,693.7 Q713,684.3 706,678.4 M715.9,692.5 Q715,683.2 708,677.3 M717.9,691.4 Q717,682 710,676.1 M719.9,690.3 Q719,680.9 712,675 M721.9,689.1 Q721,679.7 714,673.8 M723.9,688 Q722.9,678.6 716,672.7 M725.9,686.8 Q724.9,677.5 717.9,671.6 M727.9,685.7 Q726.9,676.3 719.9,670.4 M729.9,684.5 Q728.9,675.2 721.9,669.3 M731.9,683.4 Q730.9,674 723.9,668.1 M733.9,682.2 Q732.9,672.9 725.9,667 M735.9,681.1 Q734.9,671.7 727.9,665.8 M737.9,680 Q736.9,670.6 729.9,664.7 M739.9,678.8 Q738.9,669.4 731.9,663.5 M741.9,677.7 Q740.9,668.3 733.9,662.4 M743.9,676.5 Q742.9,667.2 735.9,661.3 M745.8,675.4 Q744.9,666 737.9,660.1 M747.8,674.2 Q746.9,664.9 739.9,659 M749.8,673.1 Q748.9,663.7 741.9,657.8 M751.8,671.9 Q750.9,662.6 743.9,656.7 M753.8,670.8 Q752.9,661.4 745.9,655.5 M755.8,669.7 Q754.9,660.3 747.9,654.4 M757.8,668.5 Q756.9,659.1 749.9,653.2 M759.8,667.4 Q758.9,658 751.9,652.1 M761.8,666.2 Q760.9,656.9 753.9,651 M763.8,665.1 Q762.9,655.7 755.9,649.8 M765.8,663.9 Q764.8,654.6 757.9,648.7 M767.8,662.8 Q766.8,653.4 759.8,647.5 M769.8,661.7 Q768.8,652.3 761.8,646.4 M771.8,660.5 Q770.8,651.1 763.8,645.2 M773.8,659.4 Q772.8,650 765.8,644.1 M775.8,658.2 Q774.8,648.9 767.8,642.9 M777.8,657.1 Q776.8,647.7 769.8,641.8 M779.8,655.9 Q778.8,646.6 771.8,640.7 M781.8,654.8 Q780.8,645.4 773.8,639.5 M783.8,653.6 Q782.8,644.3 775.8,638.4 M785.8,652.5 Q784.8,643.1 777.8,637.2 M787.7,651.4 Q786.8,642 779.8,636.1 M789.7,650.2 Q788.8,640.8 781.8,634.9 M791.7,649.1 Q790.8,639.7 783.8,633.8 M793.7,647.9 Q792.8,638.6 785.8,632.7 M795.7,646.8 Q794.8,637.4 787.8,631.5 M797.7,645.6 Q796.8,636.3 789.8,630.4 M799.7,644.5 Q798.8,635.1 791.8,629.2 M801.7,643.3 Q800.8,634 793.8,628.1 M803.7,642.2 Q802.8,632.8 795.8,626.9 M805.7,641.1 Q804.7,631.7 797.8,625.8 M807.7,639.9 Q806.7,630.5 799.7,624.6 M809.7,638.8 Q808.7,629.4 801.7,623.5 M811.7,637.6 Q810.7,628.3 803.7,622.4 M813.7,636.5 Q812.7,627.1 805.7,621.2 M815.7,635.3 Q814.7,626 807.7,620.1 M817.7,634.2 Q816.7,624.8 809.7,618.9 M819.7,633 Q818.7,623.7 811.7,617.8 M821.7,631.9 Q820.7,622.5 813.7,616.6" fill="none" stroke="#222" stroke-width="0.85"/>
<path d="M685.7,690 A3.9,8.6 -29.8 0 0 694.3,705 L822.8,631.3 A3.9,8.6 -29.8 0 0 814.2,616.3 Z" fill="none" stroke="#222" stroke-width="1.7" stroke-linejoin="round"/>
<ellipse cx="818.5" cy="623.8" rx="3.9" ry="8.6" transform="rotate(-29.8 818.5 623.8)" fill="#fff" stroke="#222" stroke-width="1.7"/>
<ellipse cx="690" cy="697.5" rx="3.9" ry="8.6" transform="rotate(-29.8 690 697.5)" fill="#fff" stroke="#222" stroke-width="1.7"/>
<path d="M642.1,719.6 A2.1,4.6 -29.9 0 0 646.7,727.6 L691.3,702 A2.1,4.6 -29.9 0 0 686.7,694 Z" fill="#fff" stroke="#222" stroke-width="1.7" stroke-linejoin="round"/>
<path d="M646.7,727.6 L662.3,718.7 A2.1,4.6 -29.7 0 0 657.7,710.7 L642.1,719.6 A2.1,4.6 -29.7 0 0 646.7,727.6 Z" fill="#d8d8d8" stroke="none"/>
<path d="M648.3,726.7 Q647.9,721.6 644.3,718.3 M650.2,725.6 Q649.8,720.5 646.2,717.3 M652.1,724.5 Q651.8,719.4 648.2,716.2 M654,723.4 Q653.7,718.3 650.1,715.1 M655.9,722.3 Q655.6,717.2 652,714 M657.8,721.2 Q657.5,716.1 653.9,712.9 M659.8,720.1 Q659.4,715 655.8,711.8" fill="none" stroke="#222" stroke-width="0.85"/>
<path d="M642.1,719.6 A2.1,4.6 -29.7 0 0 646.7,727.6 L662.3,718.7 A2.1,4.6 -29.7 0 0 657.7,710.7 Z" fill="none" stroke="#222" stroke-width="1.7" stroke-linejoin="round"/>
<line x1="764" y1="670" x2="922" y2="694.8" stroke="#222" stroke-width="1.0" />
<line x1="626" y1="672" x2="917" y2="726.3" stroke="#222" stroke-width="1.0" />
<line x1="600" y1="686" x2="915" y2="759.7" stroke="#222" stroke-width="1.0" />
<line x1="627" y1="734.7" x2="915" y2="782.3" stroke="#222" stroke-width="1.0" />
<line x1="656" y1="811.2" x2="915" y2="819.2" stroke="#222" stroke-width="1.0" />
<line x1="101.4" y1="519.8" x2="478" y2="539.5" stroke="#222" stroke-width="1.0" />
<line x1="92.4" y1="552.8" x2="365.4" y2="590.8" stroke="#222" stroke-width="1.0" />
<line x1="84.9" y1="596.4" x2="437.5" y2="635.5" stroke="#222" stroke-width="1.0" />
<line x1="92.4" y1="646.2" x2="165.7" y2="646.2" stroke="#222" stroke-width="1.4" />
<line x1="99.7" y1="677.2" x2="259.4" y2="677.2" stroke="#333" stroke-width="1.4" />
<line x1="101.4" y1="712" x2="297.7" y2="712.9" stroke="#333" stroke-width="1.4" />
<line x1="96.4" y1="773.3" x2="320.8" y2="773.3" stroke="#222" stroke-width="1.4" />
<polyline points="434.1,613.5 434.1,608.3 482.4,580" fill="none" stroke="#222" stroke-width="1.7" stroke-linejoin="round"/>
<polyline points="506.5,569.5 590.5,619.8 590.5,648" fill="none" stroke="#222" stroke-width="1.7" stroke-linejoin="round"/>
<line x1="590.5" y1="619.8" x2="521.2" y2="658.7" stroke="#222" stroke-width="1.7" />
<line x1="435.1" y1="609.4" x2="524.4" y2="662.9" stroke="#222" stroke-width="1.2" />
<line x1="438.3" y1="616.7" x2="524.4" y2="665.5" stroke="#222" stroke-width="1.2" />
<line x1="486" y1="577.8" x2="493" y2="573.7" stroke="#222" stroke-width="1.7" />
<line x1="498" y1="570.8" x2="503" y2="568" stroke="#222" stroke-width="1.7" />
<line x1="590.5" y1="648" x2="582" y2="652.5" stroke="#222" stroke-width="1.7" />
<line x1="575" y1="656.5" x2="566.4" y2="661.5" stroke="#222" stroke-width="1.7" />
<line x1="560" y1="665" x2="551.7" y2="669.8" stroke="#222" stroke-width="1.7" />
<line x1="543.3" y1="677.6" x2="501.3" y2="700.7" stroke="#222" stroke-width="1.7" />
<polyline points="508.6,662.9 524.4,671.5 524.4,677.6 515,682.5 515,690" fill="none" stroke="#222" stroke-width="1.7" stroke-linejoin="round"/>
<polyline points="425.7,613.5 398.4,628.2 398.4,662.9 416.2,672.8 416.2,661 428,667.5 428,673" fill="none" stroke="#222" stroke-width="1.7" stroke-linejoin="round"/>
<line x1="425.7" y1="613.5" x2="511.8" y2="662.9" stroke="#222" stroke-width="1.7" />
<line x1="398.4" y1="628.2" x2="483.4" y2="677.6" stroke="#222" stroke-width="1.2" />
<line x1="483.4" y1="677.6" x2="508" y2="664.5" stroke="#222" stroke-width="1.7" />
<line x1="483.4" y1="677.6" x2="483.4" y2="710" stroke="#222" stroke-width="1.7" />
<polyline points="483.4,710 466.3,699.3 472.3,693.3 468.5,690.5" fill="none" stroke="#222" stroke-width="1.7" stroke-linejoin="round"/>
<line x1="443.5" y1="702.8" x2="466.6" y2="690.2" stroke="#222" stroke-width="1.2" />
<ellipse cx="579.4" cy="648.2" rx="2.3" ry="4.2" transform="rotate(25 579.4 648.2)" fill="#fff" stroke="#222" stroke-width="1.3"/>
<ellipse cx="554.7" cy="662.5" rx="2.3" ry="4.2" transform="rotate(25 554.7 662.5)" fill="#fff" stroke="#222" stroke-width="1.3"/>
<ellipse cx="540.4" cy="670.3" rx="2.3" ry="4.2" transform="rotate(25 540.4 670.3)" fill="#fff" stroke="#222" stroke-width="1.3"/>
<ellipse cx="491.5" cy="701" rx="2.3" ry="4.2" transform="rotate(25 491.5 701)" fill="#fff" stroke="#222" stroke-width="1.3"/>
<path d="M482.9,546 L482.9,561 A2.3,4.6 90 0 0 492.1,561 L492.1,546 A2.3,4.6 90 0 0 482.9,546 Z" fill="#d8d8d8" stroke="none"/>
<path d="M482.9,547.9 Q487.5,550.4 492.1,548.6 M482.9,550.2 Q487.5,552.7 492.1,551 M482.9,552.5 Q487.5,555 492.1,553.2 M482.9,554.9 Q487.5,557.3 492.1,555.6 M482.9,557.1 Q487.5,559.6 492.1,557.9 M482.9,559.4 Q487.5,561.9 492.1,560.1" fill="none" stroke="#222" stroke-width="0.85"/>
<path d="M492.1,546 A2.3,4.6 90 0 0 482.9,546 L482.9,561 A2.3,4.6 90 0 0 492.1,561 Z" fill="none" stroke="#222" stroke-width="1.7" stroke-linejoin="round"/>
<ellipse cx="487.9" cy="541.5" rx="9.3" ry="4.3" transform="rotate(0 487.9 541.5)" fill="#fff" stroke="#222" stroke-width="1.6"/>
<ellipse cx="487.9" cy="541.3" rx="6.2" ry="2.6" transform="rotate(0 487.9 541.3)" fill="#fff" stroke="#222" stroke-width="1.0"/>
<line x1="484" y1="541.3" x2="491.8" y2="541.3" stroke="#222" stroke-width="1.0" />
<line x1="487.5" y1="564" x2="487.5" y2="619" stroke="#222" stroke-width="1.0" />
<path d="M481,620.5 A7.9,4.7 0 1 0 494,620.5" fill="none" stroke="#222" stroke-width="1.7" stroke-linejoin="round" />
<path d="M506.8,579 L506.8,600 A2.5,5 90 0 0 516.8,600 L516.8,579 A2.5,5 90 0 0 506.8,579 Z" fill="#d8d8d8" stroke="none"/>
<path d="M506.8,580.9 Q511.8,583.5 516.8,581.6 M506.8,583.2 Q511.8,585.9 516.8,584 M506.8,585.5 Q511.8,588.1 516.8,586.2 M506.8,587.9 Q511.8,590.5 516.8,588.6 M506.8,590.1 Q511.8,592.8 516.8,590.9 M506.8,592.4 Q511.8,595 516.8,593.1 M506.8,594.8 Q511.8,597.4 516.8,595.5 M506.8,597 Q511.8,599.6 516.8,597.8" fill="none" stroke="#222" stroke-width="0.85"/>
<path d="M516.8,579 A2.5,5 90 0 0 506.8,579 L506.8,600 A2.5,5 90 0 0 516.8,600 Z" fill="none" stroke="#222" stroke-width="1.7" stroke-linejoin="round"/>
<ellipse cx="511.8" cy="609.5" rx="4.5" ry="2.7" transform="rotate(0 511.8 609.5)" fill="#fff" stroke="#222" stroke-width="1.3"/>
<line x1="502.3" y1="500" x2="502.3" y2="566" stroke="#222" stroke-width="1.1" />
<line x1="502.3" y1="570.5" x2="502.3" y2="573.5" stroke="#222" stroke-width="1.1" />
<line x1="502.3" y1="581" x2="502.3" y2="588" stroke="#222" stroke-width="1.1" />
<line x1="502.3" y1="595" x2="502.3" y2="598" stroke="#222" stroke-width="1.1" />
<line x1="502.3" y1="602" x2="502.3" y2="654.5" stroke="#222" stroke-width="1.1" />
<polygon points="366.4,592 382,583 398.5,591.5 383.5,600.5" fill="#fff" stroke="#222" stroke-width="1.6" stroke-linejoin="round"/>
<polyline points="366.4,592 366.4,597.5 383.5,606.5 398.5,597.5 398.5,591.5" fill="none" stroke="#222" stroke-width="1.6" stroke-linejoin="round"/>
<line x1="383.5" y1="600.5" x2="383.5" y2="606.5" stroke="#222" stroke-width="1.6" />
<ellipse cx="382.3" cy="591.5" rx="4.8" ry="2.7" transform="rotate(0 382.3 591.5)" fill="#999" stroke="#222" stroke-width="1.2"/>
<line x1="397" y1="604" x2="419.5" y2="616" stroke="#222" stroke-width="1.0" />
<polygon points="606.8,658.6 603.5,664 596.9,664 593.6,658.6 596.9,653.2 603.5,653.2" fill="#d0d0d0" stroke="#222" stroke-width="1.6" stroke-linejoin="round"/>
<ellipse cx="600.2" cy="658.6" rx="3.6" ry="3.6" transform="rotate(0 600.2 658.6)" fill="#888" stroke="#222" stroke-width="1.0"/>
<ellipse cx="600.2" cy="658.6" rx="2" ry="2" transform="rotate(0 600.2 658.6)" fill="#ccc" stroke="#222" stroke-width="0.8"/>
<path d="M607,666.5 L622.6,675.6 A2.1,4.6 30.3 0 0 627.2,667.6 L611.6,658.5 A2.1,4.6 30.3 0 0 607,666.5 Z" fill="#d8d8d8" stroke="none"/>
<path d="M608.6,667.4 Q612.8,664.5 613.8,659.8 M610.5,668.5 Q614.7,665.7 615.7,660.9 M612.4,669.6 Q616.6,666.8 617.6,662 M614.3,670.7 Q618.5,667.9 619.5,663.1 M616.2,671.8 Q620.4,669 621.4,664.2 M618.1,672.9 Q622.3,670.1 623.3,665.4 M620,674.1 Q624.2,671.2 625.2,666.5" fill="none" stroke="#222" stroke-width="0.85"/>
<path d="M611.6,658.5 A2.1,4.6 30.3 0 0 607,666.5 L622.6,675.6 A2.1,4.6 30.3 0 0 627.2,667.6 Z" fill="none" stroke="#222" stroke-width="1.7" stroke-linejoin="round"/>
<path d="M570.8,675.3 L587.9,685.1 A1.9,4.3 29.8 0 0 592.1,677.7 L575,667.9 A1.9,4.3 29.8 0 0 570.8,675.3 Z" fill="#d8d8d8" stroke="none"/>
<path d="M572.5,676.3 Q576.4,673.6 577.3,669.2 M574.4,677.4 Q578.4,674.8 579.3,670.3 M576.4,678.6 Q580.4,675.9 581.3,671.5 M578.4,679.7 Q582.4,677 583.3,672.6 M580.4,680.9 Q584.4,678.2 585.3,673.8 M582.4,682 Q586.4,679.3 587.3,674.9 M584.4,683.2 Q588.4,680.5 589.3,676 M586.4,684.3 Q590.4,681.6 591.3,677.2" fill="none" stroke="#222" stroke-width="0.85"/>
<path d="M575,667.9 A1.9,4.3 29.8 0 0 570.8,675.3 L587.9,685.1 A1.9,4.3 29.8 0 0 592.1,677.7 Z" fill="none" stroke="#222" stroke-width="1.7" stroke-linejoin="round"/>
<ellipse cx="593.7" cy="683.3" rx="4.2" ry="6.3" transform="rotate(29.3 593.7 683.3)" fill="#ddd" stroke="#222" stroke-width="1.6"/>
<ellipse cx="593.7" cy="683.3" rx="2" ry="3" transform="rotate(29.3 593.7 683.3)" fill="#777" stroke="#222" stroke-width="0.8"/>
<polygon points="567.8,680.7 564.5,686.1 557.9,686.1 554.6,680.7 557.9,675.3 564.5,675.3" fill="#d0d0d0" stroke="#222" stroke-width="1.6" stroke-linejoin="round"/>
<ellipse cx="561.2" cy="680.7" rx="3.6" ry="3.6" transform="rotate(0 561.2 680.7)" fill="#888" stroke="#222" stroke-width="1.0"/>
<ellipse cx="561.2" cy="680.7" rx="2" ry="2" transform="rotate(0 561.2 680.7)" fill="#ccc" stroke="#222" stroke-width="0.8"/>
<path d="M568,689.7 L582.3,698.7 A2,4.4 32.2 0 0 586.9,691.3 L572.6,682.3 A2,4.4 32.2 0 0 568,689.7 Z" fill="#d8d8d8" stroke="none"/>
<path d="M569.5,690.7 Q573.7,688.1 574.8,683.6 M571.4,691.9 Q575.5,689.3 576.7,684.8 M573.2,693.1 Q577.4,690.5 578.5,686 M575.1,694.2 Q579.3,691.6 580.4,687.1 M577,695.4 Q581.1,692.8 582.2,688.3 M578.8,696.6 Q583,694 584.1,689.5 M580.7,697.7 Q584.8,695.2 586,690.7" fill="none" stroke="#222" stroke-width="0.85"/>
<path d="M572.6,682.3 A2,4.4 32.2 0 0 568,689.7 L582.3,698.7 A2,4.4 32.2 0 0 586.9,691.3 Z" fill="none" stroke="#222" stroke-width="1.7" stroke-linejoin="round"/>
<polygon points="525.9,711.5 522.6,716.9 516,716.9 512.7,711.5 516,706.1 522.6,706.1" fill="#d0d0d0" stroke="#222" stroke-width="1.6" stroke-linejoin="round"/>
<ellipse cx="519.3" cy="711.5" rx="3.6" ry="3.6" transform="rotate(0 519.3 711.5)" fill="#888" stroke="#222" stroke-width="1.0"/>
<ellipse cx="519.3" cy="711.5" rx="2" ry="2" transform="rotate(0 519.3 711.5)" fill="#ccc" stroke="#222" stroke-width="0.8"/>
<path d="M523.8,720.8 L538.8,729.3 A2,4.4 29.5 0 0 543.2,721.7 L528.2,713.2 A2,4.4 29.5 0 0 523.8,720.8 Z" fill="#d8d8d8" stroke="none"/>
<path d="M525.4,721.7 Q529.5,719 530.4,714.4 M527.4,722.8 Q531.4,720 532.3,715.5 M529.3,723.9 Q533.3,721.1 534.2,716.6 M531.2,725 Q535.2,722.2 536.1,717.7 M533.1,726.1 Q537.1,723.3 538,718.8 M535,727.2 Q539,724.4 540,719.9 M536.9,728.2 Q540.9,725.5 541.9,720.9" fill="none" stroke="#222" stroke-width="0.85"/>
<path d="M528.2,713.2 A2,4.4 29.5 0 0 523.8,720.8 L538.8,729.3 A2,4.4 29.5 0 0 543.2,721.7 Z" fill="none" stroke="#222" stroke-width="1.7" stroke-linejoin="round"/>
<line x1="584" y1="651" x2="597" y2="657" stroke="#222" stroke-width="1.0" />
<line x1="559" y1="665" x2="574" y2="672" stroke="#222" stroke-width="1.0" />
<line x1="545" y1="673" x2="555" y2="678" stroke="#222" stroke-width="1.0" />
<line x1="495" y1="703" x2="513" y2="709" stroke="#222" stroke-width="1.0" />
<path d="M170,645.9 L198.9,662.1 A1.9,4.3 29.3 0 0 203.1,654.5 L174.2,638.3 A1.9,4.3 29.3 0 0 170,645.9 Z" fill="#d8d8d8" stroke="none"/>
<path d="M171.6,646.8 Q175.5,644 176.4,639.6 M173.5,647.8 Q177.5,645.1 178.3,640.7 M175.4,648.9 Q179.4,646.2 180.3,641.7 M177.4,650 Q181.3,647.3 182.2,642.8 M179.3,651.1 Q183.2,648.3 184.1,643.9 M181.2,652.1 Q185.1,649.4 186,645 M183.1,653.2 Q187.1,650.5 187.9,646.1 M185,654.3 Q189,651.6 189.9,647.1 M187,655.4 Q190.9,652.6 191.8,648.2 M188.9,656.4 Q192.8,653.7 193.7,649.3 M190.8,657.5 Q194.7,654.8 195.6,650.4 M192.7,658.6 Q196.6,655.9 197.5,651.4 M194.6,659.7 Q198.6,656.9 199.5,652.5 M196.6,660.7 Q200.5,658 201.4,653.6" fill="none" stroke="#222" stroke-width="0.85"/>
<path d="M174.2,638.3 A1.9,4.3 29.3 0 0 170,645.9 L198.9,662.1 A1.9,4.3 29.3 0 0 203.1,654.5 Z" fill="none" stroke="#222" stroke-width="1.7" stroke-linejoin="round"/>
<path d="M159.9,643.4 L168.9,648.4 A3.4,7.5 29.3 0 1 176.1,635.2 L167.1,630.2 A3.4,7.5 29.3 0 0 159.9,643.4 Z" fill="#fff" stroke="#222" stroke-width="1.7" stroke-linejoin="round" />
<ellipse cx="172.5" cy="641.8" rx="3.4" ry="7.5" transform="rotate(29.3 172.5 641.8)" fill="#fff" stroke="#222" stroke-width="1.7"/>
<ellipse cx="163.5" cy="636.8" rx="3.4" ry="7.5" transform="rotate(29.3 163.5 636.8)" fill="#fff" stroke="#222" stroke-width="1.6"/>
<line x1="201" y1="658.3" x2="210.4" y2="664.2" stroke="#222" stroke-width="1.0" />
<polyline points="211,706.8 211,669.6 235.8,655.6 276.6,679.2 276.6,697.2" fill="none" stroke="#222" stroke-width="1.7" stroke-linejoin="round"/>
<line x1="211" y1="669.6" x2="260.2" y2="698" stroke="#222" stroke-width="1.2" />
<polyline points="276.6,679.2 255.8,691.2 262.6,695.6" fill="none" stroke="#222" stroke-width="1.7" stroke-linejoin="round"/>
<line x1="259.8" y1="697.6" x2="259.8" y2="734.8" stroke="#222" stroke-width="1.7" />
<line x1="263.8" y1="697" x2="263.8" y2="733.2" stroke="#222" stroke-width="1.7" />
<line x1="211" y1="706.8" x2="259.8" y2="734.8" stroke="#222" stroke-width="1.7" />
<line x1="259.8" y1="734.8" x2="263.8" y2="733.2" stroke="#222" stroke-width="1.7" />
<line x1="259.8" y1="697.6" x2="263.8" y2="697" stroke="#222" stroke-width="1.2" />
<path d="M265,695 C266,691 268,690 270.5,691.5" fill="none" stroke="#222" stroke-width="1.2" stroke-linejoin="round" />
<line x1="265" y1="708" x2="273" y2="703.5" stroke="#222" stroke-width="1.2" />
<line x1="266" y1="696" x2="290" y2="710" stroke="#222" stroke-width="1.0" />
<polyline points="280.6,707.6 280.6,728 287,732 309.3,720 309.3,699 303,695.5" fill="#fff" stroke="#222" stroke-width="1.6" stroke-linejoin="round"/>
<line x1="280.6" y1="707.6" x2="303" y2="695.5" stroke="#222" stroke-width="1.6" />
<line x1="280.6" y1="707.6" x2="287" y2="711.5" stroke="#222" stroke-width="1.6" />
<line x1="287" y1="711.5" x2="309.3" y2="699" stroke="#222" stroke-width="1.6" />
<line x1="287" y1="711.5" x2="287" y2="732" stroke="#222" stroke-width="1.6" />
<ellipse cx="296" cy="712" rx="2.5" ry="4.2" transform="rotate(25 296 712)" fill="#fff" stroke="#222" stroke-width="1.4"/>
<line x1="298" y1="713" x2="338" y2="737" stroke="#222" stroke-width="1.0" />
<line x1="319" y1="774" x2="355" y2="753.2" stroke="#222" stroke-width="1.7" />
<line x1="363.5" y1="748.3" x2="434" y2="707.6" stroke="#222" stroke-width="1.7" />
<line x1="330" y1="774" x2="357" y2="758.4" stroke="#222" stroke-width="1.7" />
<line x1="369" y1="751.5" x2="445" y2="707.6" stroke="#222" stroke-width="1.7" />
<line x1="319" y1="774" x2="330" y2="774" stroke="#222" stroke-width="1.7" />
<line x1="434" y1="707.6" x2="445" y2="707.6" stroke="#222" stroke-width="1.7" />
<line x1="300" y1="716" x2="354" y2="746" stroke="#222" stroke-width="1.0" />
<line x1="367" y1="753.5" x2="373" y2="757" stroke="#222" stroke-width="1.0" />
<line x1="387" y1="766" x2="429" y2="790" stroke="#222" stroke-width="1.0" />
<line x1="428.4" y1="796.9" x2="595.4" y2="702.5" stroke="#222" stroke-width="1.7" />
<line x1="445.2" y1="794.8" x2="614" y2="699.4" stroke="#222" stroke-width="1.7" />
<line x1="458.4" y1="796" x2="612.8" y2="708.8" stroke="#222" stroke-width="1.2" />
<line x1="480" y1="807.2" x2="612.8" y2="732.2" stroke="#222" stroke-width="1.2" />
<line x1="493" y1="812.9" x2="548" y2="781.8" stroke="#222" stroke-width="1.2" />
<line x1="563.7" y1="772.9" x2="567.6" y2="770.7" stroke="#222" stroke-width="1.2" />
<line x1="581.9" y1="762.6" x2="613.1" y2="745" stroke="#222" stroke-width="1.2" />
<line x1="496.8" y1="818.5" x2="613.1" y2="752.8" stroke="#222" stroke-width="1.7" />
<line x1="623" y1="747.2" x2="640" y2="737.6" stroke="#222" stroke-width="1.2" />
<line x1="500" y1="825.8" x2="613" y2="762" stroke="#222" stroke-width="1.2" />
<line x1="500" y1="829.7" x2="613" y2="765.9" stroke="#222" stroke-width="1.2" />
<line x1="622" y1="756.9" x2="664" y2="733.1" stroke="#222" stroke-width="1.2" />
<line x1="622" y1="760.8" x2="666" y2="735.9" stroke="#222" stroke-width="1.2" />
<line x1="513" y1="846.6" x2="680" y2="752.2" stroke="#222" stroke-width="1.2" />
<line x1="545.5" y1="831.5" x2="681" y2="754.9" stroke="#222" stroke-width="1.2" />
<line x1="572.8" y1="842.7" x2="703.1" y2="767.8" stroke="#222" stroke-width="1.2" />
<line x1="595.4" y1="700.8" x2="602" y2="703.2" stroke="#222" stroke-width="1.7" />
<line x1="614" y1="698.4" x2="622.4" y2="702" stroke="#222" stroke-width="1.7" />
<line x1="622.4" y1="702" x2="627.2" y2="720" stroke="#222" stroke-width="1.2" />
<line x1="627.6" y1="721.6" x2="663.6" y2="739.6" stroke="#222" stroke-width="1.2" />
<line x1="428.4" y1="798.2" x2="428.4" y2="816.8" stroke="#222" stroke-width="1.7" />
<line x1="430.8" y1="800" x2="447.6" y2="809.6" stroke="#222" stroke-width="1.2" />
<line x1="445.2" y1="795.2" x2="449" y2="809.6" stroke="#222" stroke-width="1.7" />
<line x1="445.2" y1="795.4" x2="499.2" y2="826.4" stroke="#222" stroke-width="1.7" />
<line x1="458.4" y1="798.2" x2="496.8" y2="819.2" stroke="#222" stroke-width="1.7" />
<line x1="499.2" y1="826.4" x2="494" y2="836.2" stroke="#222" stroke-width="1.7" />
<line x1="494" y1="836.2" x2="513.5" y2="847.5" stroke="#222" stroke-width="1.2" />
<line x1="513.5" y1="847.5" x2="513.5" y2="866.2" stroke="#222" stroke-width="1.7" />
<line x1="545.5" y1="832.3" x2="545.5" y2="850" stroke="#222" stroke-width="1.7" />
<line x1="513.5" y1="866.2" x2="545.5" y2="849.5" stroke="#222" stroke-width="1.7" />
<line x1="485" y1="849.8" x2="513.5" y2="866.2" stroke="#222" stroke-width="1.2" />
<line x1="545.5" y1="832.3" x2="566" y2="844.5" stroke="#222" stroke-width="1.2" />
<line x1="567.5" y1="846" x2="567.5" y2="904.5" stroke="#222" stroke-width="1.7" />
<line x1="476.8" y1="853.5" x2="567.5" y2="904.5" stroke="#222" stroke-width="1.7" />
<polyline points="567.5,904.5 572,901.5 572,885 575,879 594,868.5 594.5,856.5 599,853.5 602.4,836.7 610.2,832.2 634.2,846.5 681,819.2 681,792.5 705,778.9 705,765.9 694,760" fill="none" stroke="#222" stroke-width="1.7" stroke-linejoin="round"/>
<polyline points="646.8,731.2 660,725.8 668.4,730 663.6,739.6" fill="none" stroke="#222" stroke-width="1.7" stroke-linejoin="round"/>
<polyline points="663.6,739.6 681.6,751.6 682.8,754.6 705.6,766.6" fill="none" stroke="#222" stroke-width="1.7" stroke-linejoin="round"/>
<line x1="617.5" y1="757" x2="617.5" y2="806" stroke="#222" stroke-width="1.0" />
<path d="M611.5,808 A7,3.6 0 1 0 623.5,808" fill="none" stroke="#222" stroke-width="1.7" stroke-linejoin="round" />
<line x1="617.3" y1="842" x2="617.3" y2="890" stroke="#222" stroke-width="1.0" />
<line x1="617.3" y1="899" x2="617.3" y2="905" stroke="#222" stroke-width="1.0" />
<line x1="617.3" y1="919" x2="617.3" y2="992" stroke="#222" stroke-width="1.0" />
<rect x="614" y="714.5" width="9.2" height="18.5" fill="#fff"/>
<path d="M614,730 L614,751.9 Q618.6,755.1 623.2,751.9 L623.2,730 Z" fill="#cfcfcf"/>
<path d="M614.5,735.3 L622.7,736 M614.5,737.8 L622.7,738.5 M614.5,740.4 L622.7,741.1 M614.5,742.9 L622.7,743.6 M614.5,745.5 L622.7,746.2 M614.5,748 L622.7,748.7 M614.5,750.6 L622.7,751.3" stroke="#333" stroke-width="0.95" fill="none"/>
<path d="M614,716.5 L614,751.9 Q618.6,755.1 623.2,751.9 L623.2,716.5" fill="none" stroke="#222" stroke-width="1.7"/>
<path d="M611.3,708.6 L611.3,712.4 A7.3,4.1 0 0 0 625.9,712.4 L625.9,708.6 A7.3,4.1 0 0 0 611.3,708.6 Z" fill="#fff" stroke="#222" stroke-width="1.7"/>
<ellipse cx="618.6" cy="708.6" rx="7.3" ry="4.1" transform="rotate(0 618.6 708.6)" fill="#fff" stroke="#222" stroke-width="1.7"/>
<polygon points="614.1,708.6 616.3,706.3 620.9,706.3 623.1,708.6 620.9,710.8 616.3,710.8" fill="#e6e6e6" stroke="#222" stroke-width="1.3" stroke-linejoin="round"/>
<path d="M616.3,710.8 L617.2,709.4 L620,709.4 L620.9,710.8" fill="#bbb" stroke="#555" stroke-width="0.7"/>
<path d="M487.3,847.1 L432.3,875.7 A10,24.5 -27.5 0 1 409.7,832.3 L464.7,803.7 A10,24.5 -27.5 0 1 487.3,847.1 Z" fill="#fff" stroke="#222" stroke-width="1.7" stroke-linejoin="round" />
<ellipse cx="421" cy="854" rx="15" ry="25.5" transform="rotate(-29.7 421 854)" fill="#fff" stroke="#222" stroke-width="1.7"/>
<path d="M411.8,831.1 C424,833 434,845 437.3,858 C438.5,863 438.2,868 437.7,871" fill="none" stroke="#222" stroke-width="1.3" stroke-linejoin="round" />
<path d="M425.1,824.8 C430,826 434,828 437,830.4 C440.5,833 443,836 444,838.1 C445.5,840.5 446.8,843 447.5,845.1" fill="none" stroke="#222" stroke-width="1.5" stroke-linejoin="round" />
<line x1="447.5" y1="841.8" x2="486.4" y2="821.5" stroke="#222" stroke-width="1.0" />
<path d="M413,863.5 C410,859 410,849 413.5,845 C417,841 423,842 427,847 C431,852 431.5,861 428,864.5 C425.5,867 420,866.5 417.5,863.5" fill="none" stroke="#222" stroke-width="1.7" stroke-linejoin="round" />
<line x1="404.1" y1="865.4" x2="423.7" y2="854.2" stroke="#222" stroke-width="1.0" />
<polygon points="445.2,795.4 499.2,826.4 512,818 512,778 446,778 438,788" fill="#fff"/>
<g clip-path="url(#cpm)"><line x1="428.4" y1="796.9" x2="595.4" y2="702.5" stroke="#222" stroke-width="1.7" /><line x1="445.2" y1="794.8" x2="614" y2="699.4" stroke="#222" stroke-width="1.7" /><line x1="458.4" y1="796" x2="612.8" y2="708.8" stroke="#222" stroke-width="1.2" /><line x1="480" y1="807.2" x2="612.8" y2="732.2" stroke="#222" stroke-width="1.2" /><line x1="493" y1="812.9" x2="548" y2="781.8" stroke="#222" stroke-width="1.2" /><line x1="563.7" y1="772.9" x2="567.6" y2="770.7" stroke="#222" stroke-width="1.2" /><line x1="581.9" y1="762.6" x2="613.1" y2="745" stroke="#222" stroke-width="1.2" /><line x1="496.8" y1="818.5" x2="613.1" y2="752.8" stroke="#222" stroke-width="1.7" /><line x1="623" y1="747.2" x2="640" y2="737.6" stroke="#222" stroke-width="1.2" /><line x1="500" y1="825.8" x2="613" y2="762" stroke="#222" stroke-width="1.2" /><line x1="500" y1="829.7" x2="613" y2="765.9" stroke="#222" stroke-width="1.2" /><line x1="622" y1="756.9" x2="664" y2="733.1" stroke="#222" stroke-width="1.2" /><line x1="622" y1="760.8" x2="666" y2="735.9" stroke="#222" stroke-width="1.2" /><line x1="513" y1="846.6" x2="680" y2="752.2" stroke="#222" stroke-width="1.2" /><line x1="545.5" y1="831.5" x2="681" y2="754.9" stroke="#222" stroke-width="1.2" /><line x1="572.8" y1="842.7" x2="703.1" y2="767.8" stroke="#222" stroke-width="1.2" /><line x1="595.4" y1="700.8" x2="602" y2="703.2" stroke="#222" stroke-width="1.7" /><line x1="614" y1="698.4" x2="622.4" y2="702" stroke="#222" stroke-width="1.7" /><line x1="622.4" y1="702" x2="627.2" y2="720" stroke="#222" stroke-width="1.2" /><line x1="627.6" y1="721.6" x2="663.6" y2="739.6" stroke="#222" stroke-width="1.2" /><line x1="428.4" y1="798.2" x2="428.4" y2="816.8" stroke="#222" stroke-width="1.7" /><line x1="430.8" y1="800" x2="447.6" y2="809.6" stroke="#222" stroke-width="1.2" /><line x1="445.2" y1="795.2" x2="449" y2="809.6" stroke="#222" stroke-width="1.7" /><line x1="445.2" y1="795.4" x2="499.2" y2="826.4" stroke="#222" stroke-width="1.7" /><line x1="458.4" y1="798.2" x2="496.8" y2="819.2" stroke="#222" stroke-width="1.7" /><line x1="499.2" y1="826.4" x2="494" y2="836.2" stroke="#222" stroke-width="1.7" /><line x1="494" y1="836.2" x2="513.5" y2="847.5" stroke="#222" stroke-width="1.2" /><line x1="513.5" y1="847.5" x2="513.5" y2="866.2" stroke="#222" stroke-width="1.7" /><line x1="545.5" y1="832.3" x2="545.5" y2="850" stroke="#222" stroke-width="1.7" /><line x1="513.5" y1="866.2" x2="545.5" y2="849.5" stroke="#222" stroke-width="1.7" /><line x1="485" y1="849.8" x2="513.5" y2="866.2" stroke="#222" stroke-width="1.2" /><line x1="545.5" y1="832.3" x2="566" y2="844.5" stroke="#222" stroke-width="1.2" /><line x1="567.5" y1="846" x2="567.5" y2="904.5" stroke="#222" stroke-width="1.7" /><line x1="476.8" y1="853.5" x2="567.5" y2="904.5" stroke="#222" stroke-width="1.7" /><polyline points="567.5,904.5 572,901.5 572,885 575,879 594,868.5 594.5,856.5 599,853.5 602.4,836.7 610.2,832.2 634.2,846.5 681,819.2 681,792.5 705,778.9 705,765.9 694,760" fill="none" stroke="#222" stroke-width="1.7" stroke-linejoin="round"/><polyline points="646.8,731.2 660,725.8 668.4,730 663.6,739.6" fill="none" stroke="#222" stroke-width="1.7" stroke-linejoin="round"/><polyline points="663.6,739.6 681.6,751.6 682.8,754.6 705.6,766.6" fill="none" stroke="#222" stroke-width="1.7" stroke-linejoin="round"/><line x1="617.5" y1="757" x2="617.5" y2="806" stroke="#222" stroke-width="1.0" /><path d="M611.5,808 A7,3.6 0 1 0 623.5,808" fill="none" stroke="#222" stroke-width="1.7" stroke-linejoin="round" /><line x1="617.3" y1="842" x2="617.3" y2="890" stroke="#222" stroke-width="1.0" /><line x1="617.3" y1="899" x2="617.3" y2="905" stroke="#222" stroke-width="1.0" /><line x1="617.3" y1="919" x2="617.3" y2="992" stroke="#222" stroke-width="1.0" /><rect x="614" y="714.5" width="9.2" height="18.5" fill="#fff"/><path d="M614,730 L614,751.9 Q618.6,755.1 623.2,751.9 L623.2,730 Z" fill="#cfcfcf"/><path d="M614.5,735.3 L622.7,736 M614.5,737.8 L622.7,738.5 M614.5,740.4 L622.7,741.1 M614.5,742.9 L622.7,743.6 M614.5,745.5 L622.7,746.2 M614.5,748 L622.7,748.7 M614.5,750.6 L622.7,751.3" stroke="#333" stroke-width="0.95" fill="none"/><path d="M614,716.5 L614,751.9 Q618.6,755.1 623.2,751.9 L623.2,716.5" fill="none" stroke="#222" stroke-width="1.7"/><path d="M611.3,708.6 L611.3,712.4 A7.3,4.1 0 0 0 625.9,712.4 L625.9,708.6 A7.3,4.1 0 0 0 611.3,708.6 Z" fill="#fff" stroke="#222" stroke-width="1.7"/><ellipse cx="618.6" cy="708.6" rx="7.3" ry="4.1" transform="rotate(0 618.6 708.6)" fill="#fff" stroke="#222" stroke-width="1.7"/><polygon points="614.1,708.6 616.3,706.3 620.9,706.3 623.1,708.6 620.9,710.8 616.3,710.8" fill="#e6e6e6" stroke="#222" stroke-width="1.3" stroke-linejoin="round"/><path d="M616.3,710.8 L617.2,709.4 L620,709.4 L620.9,710.8" fill="#bbb" stroke="#555" stroke-width="0.7"/></g>
<path d="M401.9,898.5 L379.8,907.8 A13.3,26.3 -29.5 0 1 355.4,861.4 L377.5,852.1 A13.3,26.3 -29.5 0 1 401.9,898.5 Z" fill="#fff" stroke="#222" stroke-width="1.7" stroke-linejoin="round" />
<path d="M377.8,851.9 l-5.7,3.2 M379.8,851.5 l-4.3,2.5 M382,851.6 l-5.7,3.2 M384.3,852.2 l-4.3,2.5 M386.8,853.3 l-5.7,3.2 M389.3,854.9 l-4.3,2.5 M391.9,856.9 l-5.7,3.2 M394.4,859.3 l-4.3,2.5 M396.8,862.1 l-5.7,3.2 M399,865.1 l-4.3,2.5 M401,868.4 l-5.7,3.2 M402.8,871.8 l-4.3,2.5 M404.4,875.2 l-5.7,3.2 M405.6,878.7 l-4.3,2.5 M406.4,882.1 l-5.7,3.2 M406.9,885.4 l-4.3,2.5 M407.1,888.4 l-5.7,3.2 M406.8,891.2 l-4.3,2.5 M406.2,893.6 l-5.7,3.2 M405.3,895.6 l-4.3,2.5 M404,897.2 l-5.7,3.2" fill="none" stroke="#222" stroke-width="1.4" stroke-linejoin="round" />
<path d="M389.7,903.8 L379.8,907.9 A13.3,26.3 -29.5 0 1 355.4,861.3 L365.3,857.2 A13.3,26.3 -29.5 0 1 389.7,903.8 Z" fill="url(#knB)" stroke="#222" stroke-width="1.5" stroke-linejoin="round" />
<ellipse cx="367.6" cy="884.6" rx="13.3" ry="26.3" transform="rotate(-29.5 367.6 884.6)" fill="#fff" stroke="#222" stroke-width="1.7"/>
<ellipse cx="367.9" cy="885.6" rx="10.9" ry="21.3" transform="rotate(-29.5 367.9 885.6)" fill="#fff" stroke="#222" stroke-width="1.6"/>
<line x1="356" y1="898" x2="382" y2="882" stroke="#222" stroke-width="1.0" />
<path d="M308.2,860.8 C309.5,855.5 314,850 320.2,848.2 C324,846.8 329,846.5 333.4,848.8 C338,851 344,857 347.8,863.8 L341.2,867.4 C339,862.5 334,856.5 328,853 C325,851 322,850 319.6,850" fill="none" stroke="#222" stroke-width="1.7" stroke-linejoin="round" />
<line x1="87" y1="850.4" x2="319.6" y2="850.4" stroke="#222" stroke-width="1.4" />
<path d="M328,880.5 C336,879.5 345,884 349.5,892.5 C353.5,900 354.5,912 352,924" fill="none" stroke="#222" stroke-width="1.7" stroke-linejoin="round" />
<path d="M340.8,948.7 L328.8,955.4 A28.5,39.5 -29.5 0 1 290.2,886.6 L302.2,879.9 A28.5,39.5 -29.5 0 1 340.8,948.7 Z" fill="#fff" stroke="#222" stroke-width="1.7" stroke-linejoin="round" />
<polyline points="288,888 291.3,886 295.1,884.6 299.1,883.9 303.3,884 307.6,884.7 311.9,886.2 316.2,888.3 320.4,891 324.4,894.3 328.1,898.1 331.4,902.4 334.3,907 336.7,911.8 338.7,916.9 340,922 340.8,927.1 341,932.1 340.6,936.9 339.6,941.3 338,945.4 335.9,949 333.3,952.1 330.2,954.6 326.7,956.5" fill="none" stroke="#222" stroke-width="1.7" stroke-linejoin="round"/>
<polyline points="297.6,892 298.4,891.8 299.3,891.6 300.1,891.5 301,891.4 301.8,891.3 302.7,891.3 303.6,891.3 304.5,891.4 305.4,891.5 306.3,891.6 307.2,891.8 308.1,892 309.1,892.3 310,892.6 310.9,892.9 311.8,893.3 312.7,893.7 313.6,894.1 314.5,894.6 315.4,895.1 316.3,895.7 317.2,896.3 318,896.9 318.9,897.5" fill="none" stroke="#222" stroke-width="1.1" stroke-linejoin="round"/>
<polyline points="333.5,919.9 333.8,921 334,922.2 334.2,923.4 334.4,924.6 334.5,925.8 334.6,926.9 334.7,928.1 334.7,929.3 334.7,930.4 334.6,931.5 334.5,932.6 334.4,933.7 334.2,934.8 334,935.8 333.7,936.8 333.4,937.8 333.1,938.8 332.7,939.7 332.3,940.6 331.8,941.5 331.3,942.3 330.8,943.1 330.3,943.9 329.7,944.7" fill="none" stroke="#222" stroke-width="1.1" stroke-linejoin="round"/>
<ellipse cx="309.5" cy="921" rx="11.5" ry="16.2" transform="rotate(-29.5 309.5 921)" fill="#fff" stroke="#222" stroke-width="1.7"/>
<ellipse cx="309.5" cy="921" rx="8.3" ry="12" transform="rotate(-29.5 309.5 921)" fill="#fff" stroke="#222" stroke-width="1.5"/>
<ellipse cx="309.5" cy="921" rx="4.2" ry="5.6" transform="rotate(-29.5 309.5 921)" fill="#fff" stroke="#222" stroke-width="1.3"/>
<ellipse cx="291.2" cy="897.6" rx="2.2" ry="3.6" transform="rotate(-29.5 291.2 897.6)" fill="#fff" stroke="#222" stroke-width="1.4"/>
<line x1="273.6" y1="908" x2="288.8" y2="899.2" stroke="#222" stroke-width="1.0" />
<path d="M271.8,915.4 L259.3,922.9 A3.2,5.6 -29.5 0 1 253.7,913.1 L266.2,905.6 A3.2,5.6 -29.5 0 1 271.8,915.4 Z" fill="#fff" stroke="#222" stroke-width="1.5" stroke-linejoin="round" />
<ellipse cx="256.5" cy="918" rx="3.2" ry="5.6" transform="rotate(-29.5 256.5 918)" fill="#fff" stroke="#222" stroke-width="1.5"/>
<path d="M260.4,924.8 L232.9,940.8 A4.6,7.8 -29.5 0 1 225.1,927.2 L252.6,911.2 A4.6,7.8 -29.5 0 1 260.4,924.8 Z" fill="#fff" stroke="#222" stroke-width="1.6" stroke-linejoin="round" />
<ellipse cx="229" cy="934" rx="4.6" ry="7.8" transform="rotate(-29.5 229 934)" fill="#fff" stroke="#222" stroke-width="1.6"/>
<ellipse cx="228.5" cy="934.3" rx="3" ry="5" transform="rotate(-29.5 228.5 934.3)" fill="#fff" stroke="#222" stroke-width="1.2"/>
<ellipse cx="272.6" cy="940.6" rx="8.4" ry="8.7" transform="rotate(0 272.6 940.6)" fill="#fff" stroke="#222" stroke-width="1.7"/>
<polygon points="270.4,930.4 277.5,927 283.5,927.8 287.2,932.8 288,938.4 284.5,944 277,943.8 276.8,933.6" fill="#fff" stroke="#222" stroke-width="1.6" stroke-linejoin="round"/>
<line x1="276.8" y1="933.6" x2="287.2" y2="932.8" stroke="#222" stroke-width="1.1" />
<line x1="276.8" y1="933.6" x2="277" y2="943.8" stroke="#222" stroke-width="1.3" />
<path d="M215.9,936.7 L184.4,954.7 A1.4,3.2 150.3 0 0 187.6,960.3 L219.1,942.3 A1.4,3.2 150.3 0 0 215.9,936.7 Z" fill="#d8d8d8" stroke="none"/>
<path d="M214.2,937.7 Q214.4,941.3 216.8,943.6 M212.2,938.8 Q212.4,942.4 214.8,944.7 M210.2,940 Q210.4,943.6 212.8,945.9 M208.2,941.1 Q208.4,944.7 210.8,947 M206.2,942.3 Q206.4,945.8 208.8,948.2 M204.2,943.4 Q204.4,947 206.8,949.3 M202.2,944.5 Q202.4,948.1 204.8,950.4 M200.2,945.7 Q200.4,949.3 202.8,951.6 M198.2,946.8 Q198.4,950.4 200.8,952.7 M196.2,948 Q196.4,951.6 198.8,953.9 M194.2,949.1 Q194.4,952.7 196.8,955 M192.3,950.2 Q192.4,953.8 194.8,956.1 M190.3,951.4 Q190.4,955 192.8,957.3 M188.3,952.5 Q188.4,956.1 190.8,958.4 M186.3,953.7 Q186.4,957.3 188.8,959.6" fill="none" stroke="#222" stroke-width="0.85"/>
<path d="M219.1,942.3 A1.4,3.2 150.3 0 0 215.9,936.7 L184.4,954.7 A1.4,3.2 150.3 0 0 187.6,960.3 Z" fill="none" stroke="#222" stroke-width="1.7" stroke-linejoin="round"/>
<ellipse cx="182" cy="960.2" rx="4.6" ry="6.4" transform="rotate(-29.5 182 960.2)" fill="#fff" stroke="#222" stroke-width="1.7"/>
<ellipse cx="182" cy="960.2" rx="2.6" ry="3.6" transform="rotate(-29.5 182 960.2)" fill="#bbb" stroke="#222" stroke-width="1.0"/>
<line x1="180" y1="958.5" x2="184" y2="962" stroke="#222" stroke-width="0.9" />
<line x1="180.5" y1="962" x2="183.5" y2="958.5" stroke="#222" stroke-width="0.9" />
<line x1="196.8" y1="957.5" x2="196.8" y2="1114.8" stroke="#222" stroke-width="1.4" />
<line x1="240" y1="934" x2="240" y2="1114.8" stroke="#222" stroke-width="1.4" />
<line x1="276.8" y1="947" x2="276.8" y2="1114.8" stroke="#222" stroke-width="1.4" />
<line x1="338.5" y1="942" x2="338.5" y2="1114.8" stroke="#222" stroke-width="1.4" />
<line x1="396.3" y1="893" x2="396.3" y2="1114.8" stroke="#222" stroke-width="1.4" />
<polyline points="520.8,950.2 598.8,904.7" fill="none" stroke="#222" stroke-width="1.7" stroke-linejoin="round"/>
<line x1="598.8" y1="904.7" x2="611" y2="911.7" stroke="#222" stroke-width="1.7" />
<line x1="619" y1="916.4" x2="695" y2="960.6" stroke="#222" stroke-width="1.7" />
<polyline points="520.8,950.2 520.8,956.7 617,1012.6 695,967 695,960.6" fill="none" stroke="#222" stroke-width="1.7" stroke-linejoin="round"/>
<line x1="520.8" y1="950.2" x2="617" y2="1006.1" stroke="#222" stroke-width="1.2" />
<line x1="617" y1="1006.1" x2="695" y2="960.6" stroke="#222" stroke-width="1.2" />
<line x1="617" y1="1006.1" x2="617" y2="1012.6" stroke="#222" stroke-width="1.2" />
<ellipse cx="568.9" cy="929.4" rx="3.8" ry="2.5" transform="rotate(0 568.9 929.4)" fill="#fff" stroke="#222" stroke-width="1.7"/>
<ellipse cx="580.6" cy="935.9" rx="3.8" ry="2.5" transform="rotate(0 580.6 935.9)" fill="#fff" stroke="#222" stroke-width="1.7"/>
<ellipse cx="641.7" cy="971" rx="3.8" ry="2.5" transform="rotate(0 641.7 971)" fill="#fff" stroke="#222" stroke-width="1.7"/>
<ellipse cx="653.4" cy="978.3" rx="3.8" ry="2.5" transform="rotate(0 653.4 978.3)" fill="#fff" stroke="#222" stroke-width="1.7"/>
<ellipse cx="617" cy="994.4" rx="4" ry="2.5" transform="rotate(0 617 994.4)" fill="#fff" stroke="#222" stroke-width="1.7"/>
<line x1="641.5" y1="986" x2="641.5" y2="998" stroke="#222" stroke-width="1.7" />
<line x1="643.5" y1="985" x2="643.5" y2="996" stroke="#222" stroke-width="1.2" />
<path d="M622,977 L642,988" fill="none" stroke="#555" stroke-width="2.2" stroke-linejoin="round" />
<line x1="566.3" y1="985.3" x2="566.3" y2="999" stroke="#222" stroke-width="1.0" />
<line x1="579.3" y1="991.8" x2="579.3" y2="1010" stroke="#222" stroke-width="1.0" />
<line x1="641.7" y1="999.6" x2="641.7" y2="1046" stroke="#222" stroke-width="1.0" />
<line x1="653.4" y1="993" x2="653.4" y2="1051.6" stroke="#222" stroke-width="1.0" />
<path d="M562.7,999.6 L562.7,1017.8 A1.8,3.6 90 0 0 569.9,1017.8 L569.9,999.6 A1.8,3.6 90 0 0 562.7,999.6 Z" fill="#d8d8d8" stroke="none"/>
<path d="M562.7,1001.5 Q566.3,1003.5 569.9,1002.2 M562.7,1003.9 Q566.3,1005.8 569.9,1004.6 M562.7,1006.1 Q566.3,1008.1 569.9,1006.9 M562.7,1008.5 Q566.3,1010.4 569.9,1009.2 M562.7,1010.8 Q566.3,1012.7 569.9,1011.5 M562.7,1013 Q566.3,1015 569.9,1013.8 M562.7,1015.4 Q566.3,1017.3 569.9,1016.1" fill="none" stroke="#222" stroke-width="0.85"/>
<path d="M569.9,999.6 A1.8,3.6 90 0 0 562.7,999.6 L562.7,1017.8 A1.8,3.6 90 0 0 569.9,1017.8 Z" fill="none" stroke="#222" stroke-width="1.7" stroke-linejoin="round"/>
<ellipse cx="566.3" cy="1019.5" rx="6" ry="3" transform="rotate(0 566.3 1019.5)" fill="#fff" stroke="#222" stroke-width="1.6"/>
<path d="M560.3,1019.5 L560.3,1024 A6,3 0 0 0 572.3,1024 L572.3,1019.5" fill="#fff" stroke="#222" stroke-width="1.6" stroke-linejoin="round" />
<path d="M575.7,1010 L575.7,1024.3 A1.8,3.6 90 0 0 582.9,1024.3 L582.9,1010 A1.8,3.6 90 0 0 575.7,1010 Z" fill="#d8d8d8" stroke="none"/>
<path d="M575.7,1011.9 Q579.3,1013.9 582.9,1012.6 M575.7,1014.2 Q579.3,1016.2 582.9,1015 M575.7,1016.5 Q579.3,1018.5 582.9,1017.2 M575.7,1018.9 Q579.3,1020.8 582.9,1019.6 M575.7,1021.1 Q579.3,1023.1 582.9,1021.9" fill="none" stroke="#222" stroke-width="0.85"/>
<path d="M582.9,1010 A1.8,3.6 90 0 0 575.7,1010 L575.7,1024.3 A1.8,3.6 90 0 0 582.9,1024.3 Z" fill="none" stroke="#222" stroke-width="1.7" stroke-linejoin="round"/>
<path d="M638.1,1046 L638.1,1062 A1.8,3.6 90 0 0 645.3,1062 L645.3,1046 A1.8,3.6 90 0 0 638.1,1046 Z" fill="#d8d8d8" stroke="none"/>
<path d="M638.1,1048 Q641.7,1049.9 645.3,1048.6 M638.1,1050.2 Q641.7,1052.2 645.3,1050.9 M638.1,1052.6 Q641.7,1054.5 645.3,1053.2 M638.1,1054.9 Q641.7,1056.8 645.3,1055.5 M638.1,1057.2 Q641.7,1059.1 645.3,1057.8 M638.1,1059.5 Q641.7,1061.4 645.3,1060.1" fill="none" stroke="#222" stroke-width="0.85"/>
<path d="M645.3,1046 A1.8,3.6 90 0 0 638.1,1046 L638.1,1062 A1.8,3.6 90 0 0 645.3,1062 Z" fill="none" stroke="#222" stroke-width="1.7" stroke-linejoin="round"/>
<path d="M649.8,1051.6 L649.8,1067.2 A1.8,3.6 90 0 0 657,1067.2 L657,1051.6 A1.8,3.6 90 0 0 649.8,1051.6 Z" fill="#d8d8d8" stroke="none"/>
<path d="M649.8,1053.5 Q653.4,1055.5 657,1054.2 M649.8,1055.8 Q653.4,1057.8 657,1056.5 M649.8,1058.2 Q653.4,1060.1 657,1058.8 M649.8,1060.5 Q653.4,1062.4 657,1061.1 M649.8,1062.8 Q653.4,1064.7 657,1063.4 M649.8,1065 Q653.4,1067 657,1065.7" fill="none" stroke="#222" stroke-width="0.85"/>
<path d="M657,1051.6 A1.8,3.6 90 0 0 649.8,1051.6 L649.8,1067.2 A1.8,3.6 90 0 0 657,1067.2 Z" fill="none" stroke="#222" stroke-width="1.7" stroke-linejoin="round"/>
<ellipse cx="653.4" cy="1069" rx="6" ry="3" transform="rotate(0 653.4 1069)" fill="#fff" stroke="#222" stroke-width="1.6"/>
<path d="M647.4,1069 L647.4,1074 A6,3 0 0 0 659.4,1074 L659.4,1069" fill="#fff" stroke="#222" stroke-width="1.6" stroke-linejoin="round" />
<line x1="524.7" y1="1120.5" x2="562.4" y2="1023" stroke="#222" stroke-width="1.0" />
<line x1="580.6" y1="1120.5" x2="579.3" y2="1025.6" stroke="#222" stroke-width="1.0" />
<line x1="736.6" y1="1119.2" x2="670.3" y2="963.2" stroke="#222" stroke-width="1.0" />
<line x1="504.5" y1="139" x2="504.5" y2="306" stroke="#222" stroke-width="1.4" />
<line x1="543" y1="142.5" x2="512.5" y2="578" stroke="#222" stroke-width="1.0" />
<line x1="584.5" y1="135" x2="584.5" y2="432" stroke="#222" stroke-width="1.4" />
<line x1="641.5" y1="133" x2="600.5" y2="656" stroke="#222" stroke-width="1.0" />
<line x1="739.5" y1="126" x2="739.5" y2="507" stroke="#222" stroke-width="1.4" />
<line x1="787.5" y1="127" x2="787.5" y2="508.5" stroke="#222" stroke-width="1.4" />
<line x1="818.5" y1="131" x2="818.5" y2="521.5" stroke="#222" stroke-width="1.4" />
<line x1="847.5" y1="132" x2="847.5" y2="582" stroke="#222" stroke-width="1.4" />
<line x1="901.8" y1="139" x2="901.8" y2="552" stroke="#222" stroke-width="1.4" />
</svg>
</body></html>
